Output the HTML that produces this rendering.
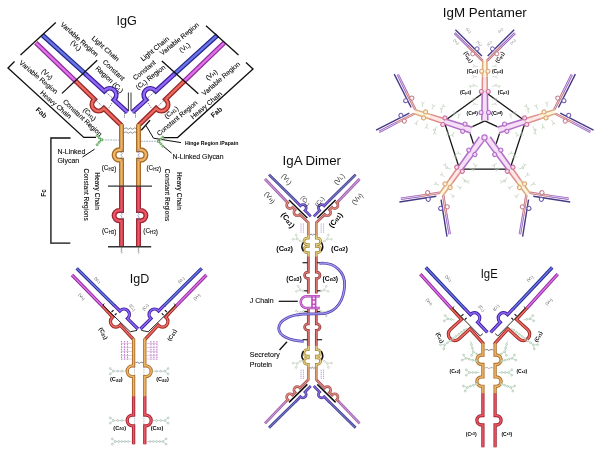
<!DOCTYPE html><html><head><meta charset="utf-8"><style>html,body{margin:0;padding:0;background:#fff}svg{display:block}text{font-family:"Liberation Sans",sans-serif}</style></head><body><svg width="600" height="453" viewBox="0 0 600 453" font-family="Liberation Sans, sans-serif"><defs><filter id="bl" x="-2%" y="-2%" width="104%" height="104%"><feGaussianBlur stdDeviation="0.38"/></filter></defs><rect width="600" height="453" fill="#fff"/><g filter="url(#bl)"><g><path d="M42.5 35.1L86.3 74.7" fill="none" stroke="#26268e" stroke-width="4.8" stroke-linecap="butt" stroke-linejoin="miter"/><path d="M42.5 35.1L86.3 74.7" fill="none" stroke="#6876e6" stroke-width="2.4" stroke-linecap="butt" stroke-linejoin="miter"/><path d="M85.8 74.3L104.22 91.05L104.9 90.31A6.6 6.6 0 0 1 114.66 99.19L113.99 99.93L127.6 112.3" fill="none" stroke="#3c1ea0" stroke-width="4.8" stroke-linecap="butt" stroke-linejoin="miter"/><path d="M85.8 74.3L104.22 91.05L104.9 90.31A6.6 6.6 0 0 1 114.66 99.19L113.99 99.93L127.6 112.3" fill="none" stroke="#9068f4" stroke-width="2.4" stroke-linecap="butt" stroke-linejoin="miter"/><path d="M35.8 42.8L76.3 81.7" fill="none" stroke="#8c2a9a" stroke-width="4.8" stroke-linecap="butt" stroke-linejoin="miter"/><path d="M35.8 42.8L76.3 81.7" fill="none" stroke="#e070e8" stroke-width="2.4" stroke-linecap="butt" stroke-linejoin="miter"/><path d="M75.8 81.2L94.4 99.23L93.7 99.95A6.6 6.6 0 0 0 103.18 109.13L103.87 108.41L121.5 125.5" fill="none" stroke="#9a2a2a" stroke-width="5" stroke-linecap="butt" stroke-linejoin="miter"/><path d="M75.8 81.2L94.4 99.23L93.7 99.95A6.6 6.6 0 0 0 103.18 109.13L103.87 108.41L121.5 125.5" fill="none" stroke="#ee6a60" stroke-width="2.3" stroke-linecap="butt" stroke-linejoin="miter"/><path d="M121.5 124.2L121.5 149.8L119.3 149.8A5.2 5.2 0 0 0 119.3 160.2L121.5 160.2L121.5 186.7" fill="none" stroke="#a86c2a" stroke-width="5" stroke-linecap="butt" stroke-linejoin="miter"/><path d="M121.5 124.2L121.5 149.8L119.3 149.8A5.2 5.2 0 0 0 119.3 160.2L121.5 160.2L121.5 186.7" fill="none" stroke="#f0b668" stroke-width="2.3" stroke-linecap="butt" stroke-linejoin="miter"/><path d="M121.5 186.4L121.5 210.4L119.3 210.4A5.2 5.2 0 0 0 119.3 220.8L121.5 220.8L121.5 246.5" fill="none" stroke="#a02634" stroke-width="5" stroke-linecap="butt" stroke-linejoin="miter"/><path d="M121.5 186.4L121.5 210.4L119.3 210.4A5.2 5.2 0 0 0 119.3 220.8L121.5 220.8L121.5 246.5" fill="none" stroke="#ee5866" stroke-width="2.3" stroke-linecap="butt" stroke-linejoin="miter"/></g><g transform="translate(260 0) scale(-1 1)"><path d="M42.5 35.1L86.3 74.7" fill="none" stroke="#26268e" stroke-width="4.8" stroke-linecap="butt" stroke-linejoin="miter"/><path d="M42.5 35.1L86.3 74.7" fill="none" stroke="#6876e6" stroke-width="2.4" stroke-linecap="butt" stroke-linejoin="miter"/><path d="M85.8 74.3L104.22 91.05L104.9 90.31A6.6 6.6 0 0 1 114.66 99.19L113.99 99.93L127.6 112.3" fill="none" stroke="#3c1ea0" stroke-width="4.8" stroke-linecap="butt" stroke-linejoin="miter"/><path d="M85.8 74.3L104.22 91.05L104.9 90.31A6.6 6.6 0 0 1 114.66 99.19L113.99 99.93L127.6 112.3" fill="none" stroke="#9068f4" stroke-width="2.4" stroke-linecap="butt" stroke-linejoin="miter"/><path d="M35.8 42.8L76.3 81.7" fill="none" stroke="#8c2a9a" stroke-width="4.8" stroke-linecap="butt" stroke-linejoin="miter"/><path d="M35.8 42.8L76.3 81.7" fill="none" stroke="#e070e8" stroke-width="2.4" stroke-linecap="butt" stroke-linejoin="miter"/><path d="M75.8 81.2L94.4 99.23L93.7 99.95A6.6 6.6 0 0 0 103.18 109.13L103.87 108.41L121.5 125.5" fill="none" stroke="#9a2a2a" stroke-width="5" stroke-linecap="butt" stroke-linejoin="miter"/><path d="M75.8 81.2L94.4 99.23L93.7 99.95A6.6 6.6 0 0 0 103.18 109.13L103.87 108.41L121.5 125.5" fill="none" stroke="#ee6a60" stroke-width="2.3" stroke-linecap="butt" stroke-linejoin="miter"/><path d="M121.5 124.2L121.5 149.8L119.3 149.8A5.2 5.2 0 0 0 119.3 160.2L121.5 160.2L121.5 186.7" fill="none" stroke="#a86c2a" stroke-width="5" stroke-linecap="butt" stroke-linejoin="miter"/><path d="M121.5 124.2L121.5 149.8L119.3 149.8A5.2 5.2 0 0 0 119.3 160.2L121.5 160.2L121.5 186.7" fill="none" stroke="#f0b668" stroke-width="2.3" stroke-linecap="butt" stroke-linejoin="miter"/><path d="M121.5 186.4L121.5 210.4L119.3 210.4A5.2 5.2 0 0 0 119.3 220.8L121.5 220.8L121.5 246.5" fill="none" stroke="#a02634" stroke-width="5" stroke-linecap="butt" stroke-linejoin="miter"/><path d="M121.5 186.4L121.5 210.4L119.3 210.4A5.2 5.2 0 0 0 119.3 220.8L121.5 220.8L121.5 246.5" fill="none" stroke="#ee5866" stroke-width="2.3" stroke-linecap="butt" stroke-linejoin="miter"/></g><path d="M124.2 128.6L126.25 127.9L128.3 129.3L130.35 127.9L132.4 129.3L134.45 127.9L136.5 128.6" fill="none" stroke="#444" stroke-width="0.6"/><path d="M124.2 132.6L126.25 131.9L128.3 133.3L130.35 131.9L132.4 133.3L134.45 131.9L136.5 132.6" fill="none" stroke="#444" stroke-width="0.6"/><path d="M121.5 247L122.2 248.08L120.8 249.17L122.2 250.25L120.8 251.33L122.2 252.42L121.5 253.5" fill="none" stroke="#666" stroke-width="0.6"/><path d="M138.5 247L139.2 248.08L137.8 249.17L139.2 250.25L137.8 251.33L139.2 252.42L138.5 253.5" fill="none" stroke="#666" stroke-width="0.6"/><path d="M121.5 149.3L122.2 150.74L120.8 152.18L122.2 153.61L120.8 155.05L122.2 156.49L120.8 157.93L122.2 159.36L121.5 160.8" fill="none" stroke="#5566aa" stroke-width="0.6"/><path d="M138.5 149.3L139.2 150.74L137.8 152.18L139.2 153.61L137.8 155.05L139.2 156.49L137.8 157.93L139.2 159.36L138.5 160.8" fill="none" stroke="#5566aa" stroke-width="0.6"/><path d="M121.5 209.8L122.2 211.28L120.8 212.75L122.2 214.22L120.8 215.7L122.2 217.18L120.8 218.65L122.2 220.12L121.5 221.6" fill="none" stroke="#5566aa" stroke-width="0.6"/><path d="M138.5 209.8L139.2 211.28L137.8 212.75L139.2 214.22L137.8 215.7L139.2 217.18L137.8 218.65L139.2 220.12L138.5 221.6" fill="none" stroke="#5566aa" stroke-width="0.6"/><line x1="104.6" y1="90.9" x2="113.8" y2="99.3" stroke="#556" stroke-width="0.75" stroke-dasharray="1.4 0.8"/><line x1="155.4" y1="90.9" x2="146.2" y2="99.3" stroke="#556" stroke-width="0.75" stroke-dasharray="1.4 0.8"/><line x1="94.2" y1="98.5" x2="103.5" y2="107.6" stroke="#556" stroke-width="0.75" stroke-dasharray="1.4 0.8"/><line x1="165.8" y1="98.5" x2="156.5" y2="107.6" stroke="#556" stroke-width="0.75" stroke-dasharray="1.4 0.8"/><line x1="112" y1="103" x2="108.5" y2="108.5" stroke="#556" stroke-width="0.75" stroke-dasharray="1.4 0.8"/><line x1="148" y1="103" x2="151.5" y2="108.5" stroke="#556" stroke-width="0.75" stroke-dasharray="1.4 0.8"/><line x1="124.5" y1="113" x2="124.5" y2="118" stroke="#556" stroke-width="0.75" stroke-dasharray="1.4 0.8"/><line x1="135.5" y1="113" x2="135.5" y2="118" stroke="#556" stroke-width="0.75" stroke-dasharray="1.4 0.8"/><line x1="128.4" y1="92.5" x2="128.4" y2="110.5" stroke="#222" stroke-width="0.9" /><line x1="131" y1="92.5" x2="131" y2="110.5" stroke="#222" stroke-width="0.9" /><line x1="108" y1="186.2" x2="152" y2="186.2" stroke="#333" stroke-width="1.3" /><line x1="108" y1="246.7" x2="151.2" y2="246.7" stroke="#333" stroke-width="1.4" /><line x1="55.8" y1="22.5" x2="20.5" y2="55" stroke="#0c0c0c" stroke-width="1.3" /><line x1="97.2" y1="60.2" x2="62" y2="93.4" stroke="#0c0c0c" stroke-width="1.3" /><path d="M14.5 61.5L8 68L83.8 137.4L96 137.4" fill="none" stroke="#0c0c0c" stroke-width="1.3"/><path d="M70.5 138L50.9 138L50.9 243.2L70.3 243.2" fill="none" stroke="#0c0c0c" stroke-width="1.3"/><line x1="206" y1="25.8" x2="238.5" y2="55" stroke="#0c0c0c" stroke-width="1.3" /><line x1="161.9" y1="60.9" x2="198.3" y2="93.7" stroke="#0c0c0c" stroke-width="1.3" /><path d="M246 62.5L253 69L177.6 137.6L163 137.6" fill="none" stroke="#0c0c0c" stroke-width="1.3"/><line x1="141.3" y1="130.2" x2="150" y2="120.3" stroke="#0c0c0c" stroke-width="1.3" /><path d="M146 125.5L153.5 138.2L181 142.6" fill="none" stroke="#0c0c0c" stroke-width="1.0"/><line x1="171.6" y1="153.2" x2="163" y2="146" stroke="#0c0c0c" stroke-width="1" /><line x1="82.5" y1="157" x2="94.6" y2="149.2" stroke="#0c0c0c" stroke-width="1" /><line x1="102.4" y1="139.9" x2="119.3" y2="140.1" stroke="#8899aa" stroke-width="0.8" stroke-dasharray="1.8 0.8"/><line x1="141" y1="141.3" x2="157.6" y2="141.3" stroke="#8899aa" stroke-width="0.8" stroke-dasharray="1.8 0.8"/><path d="M101.3 139.8L97.2 135.6M101.3 139.8L97.2 144.7" fill="none" stroke="#3f943c" stroke-width="0.5"/><rect x="100.3" y="138.8" width="2" height="2" fill="#e4f4e0" stroke="#3f943c" stroke-width="0.8"/><circle cx="99.2" cy="137.7" r="1.0" fill="#e4f4e0" stroke="#3f943c" stroke-width="0.8"/><circle cx="97.2" cy="135.6" r="1.0" fill="#e4f4e0" stroke="#3f943c" stroke-width="0.8"/><circle cx="99.2" cy="142.2" r="1.0" fill="#e4f4e0" stroke="#3f943c" stroke-width="0.8"/><circle cx="97.2" cy="144.7" r="1.0" fill="#e4f4e0" stroke="#3f943c" stroke-width="0.8"/><path d="M158.7 141.3L162.8 137.1M158.7 141.3L162.8 146.2" fill="none" stroke="#3f943c" stroke-width="0.5"/><rect x="157.7" y="140.3" width="2" height="2" fill="#e4f4e0" stroke="#3f943c" stroke-width="0.8"/><circle cx="160.8" cy="139.2" r="1.0" fill="#e4f4e0" stroke="#3f943c" stroke-width="0.8"/><circle cx="162.8" cy="137.1" r="1.0" fill="#e4f4e0" stroke="#3f943c" stroke-width="0.8"/><circle cx="160.8" cy="143.7" r="1.0" fill="#e4f4e0" stroke="#3f943c" stroke-width="0.8"/><circle cx="162.8" cy="146.2" r="1.0" fill="#e4f4e0" stroke="#3f943c" stroke-width="0.8"/><text x="126.7" y="25" font-size="12.4" text-anchor="middle" font-weight="normal" fill="#111" textLength="20.4" lengthAdjust="spacingAndGlyphs">IgG</text><text x="79.6" y="39.2" font-size="6.8" text-anchor="middle" font-weight="normal" fill="#0a0a0a" transform="rotate(41.5 79.6 39.2)" dominant-baseline="central" stroke="#0a0a0a" stroke-width="0.09">Variable Region</text><text x="76.3" y="45.2" font-size="6.8" text-anchor="middle" font-weight="normal" fill="#0a0a0a" transform="rotate(41.5 76.3 45.2)" dominant-baseline="central" stroke="#0a0a0a" stroke-width="0.09">(V<tspan font-size="70%" dy="1">L</tspan><tspan dy="-1">)</tspan></text><text x="105.7" y="48.6" font-size="6.8" text-anchor="middle" font-weight="normal" fill="#0a0a0a" transform="rotate(41.5 105.7 48.6)" dominant-baseline="central" stroke="#0a0a0a" stroke-width="0.09">Light Chain</text><text x="113.8" y="70" font-size="6.8" text-anchor="middle" font-weight="normal" fill="#0a0a0a" transform="rotate(43 113.8 70)" dominant-baseline="central" stroke="#0a0a0a" stroke-width="0.09">Constant</text><text x="109.6" y="79.2" font-size="6.8" text-anchor="middle" font-weight="normal" fill="#0a0a0a" transform="rotate(43 109.6 79.2)" dominant-baseline="central" stroke="#0a0a0a" stroke-width="0.09">Region (C<tspan font-size="70%" dy="1">L</tspan><tspan dy="-1">)</tspan></text><text x="47.4" y="74" font-size="6.8" text-anchor="middle" font-weight="normal" fill="#0a0a0a" transform="rotate(40 47.4 74)" dominant-baseline="central" stroke="#0a0a0a" stroke-width="0.09">(V<tspan font-size="70%" dy="1">H</tspan><tspan dy="-1">)</tspan></text><text x="38.8" y="77" font-size="6.8" text-anchor="middle" font-weight="normal" fill="#0a0a0a" transform="rotate(40 38.8 77)" dominant-baseline="central" stroke="#0a0a0a" stroke-width="0.09">Variable Region</text><text x="56" y="104.4" font-size="6.8" text-anchor="middle" font-weight="normal" fill="#0a0a0a" transform="rotate(41 56 104.4)" dominant-baseline="central" stroke="#0a0a0a" stroke-width="0.09">Heavy Chain</text><text x="82.6" y="117.7" font-size="6.8" text-anchor="middle" font-weight="normal" fill="#0a0a0a" transform="rotate(43 82.6 117.7)" dominant-baseline="central" stroke="#0a0a0a" stroke-width="0.09">Constant Region</text><text x="89.9" y="114" font-size="6.8" text-anchor="middle" font-weight="normal" fill="#0a0a0a" transform="rotate(43 89.9 114)" dominant-baseline="central" stroke="#0a0a0a" stroke-width="0.09">(C<tspan font-size="70%" dy="1">H1</tspan><tspan dy="-1">)</tspan></text><text x="41.6" y="112.6" font-size="7" text-anchor="middle" font-weight="bold" fill="#0a0a0a" transform="rotate(43 41.6 112.6)" dominant-baseline="central">Fab</text><text x="179.4" y="38.7" font-size="6.8" text-anchor="middle" font-weight="normal" fill="#0a0a0a" transform="rotate(-39 179.4 38.7)" dominant-baseline="central" stroke="#0a0a0a" stroke-width="0.09">Variable Region</text><text x="184.4" y="47.3" font-size="6.8" text-anchor="middle" font-weight="normal" fill="#0a0a0a" transform="rotate(-39 184.4 47.3)" dominant-baseline="central" stroke="#0a0a0a" stroke-width="0.09">(V<tspan font-size="70%" dy="1">L</tspan><tspan dy="-1">)</tspan></text><text x="154.7" y="48.7" font-size="6.8" text-anchor="middle" font-weight="normal" fill="#0a0a0a" transform="rotate(-39.5 154.7 48.7)" dominant-baseline="central" stroke="#0a0a0a" stroke-width="0.09">Light Chain</text><text x="144.2" y="70" font-size="6.8" text-anchor="middle" font-weight="normal" fill="#0a0a0a" transform="rotate(-39 144.2 70)" dominant-baseline="central" stroke="#0a0a0a" stroke-width="0.09">Constant</text><text x="150.4" y="77.1" font-size="6.8" text-anchor="middle" font-weight="normal" fill="#0a0a0a" transform="rotate(-38 150.4 77.1)" dominant-baseline="central" stroke="#0a0a0a" stroke-width="0.09">(C<tspan font-size="70%" dy="1">L</tspan><tspan dy="-1">)</tspan> Region</text><text x="211.2" y="74.6" font-size="6.8" text-anchor="middle" font-weight="normal" fill="#0a0a0a" transform="rotate(-40 211.2 74.6)" dominant-baseline="central" stroke="#0a0a0a" stroke-width="0.09">(V<tspan font-size="70%" dy="1">H</tspan><tspan dy="-1">)</tspan></text><text x="220.8" y="78.5" font-size="6.8" text-anchor="middle" font-weight="normal" fill="#0a0a0a" transform="rotate(-41 220.8 78.5)" dominant-baseline="central" stroke="#0a0a0a" stroke-width="0.09">Variable Region</text><text x="206.2" y="105.2" font-size="6.8" text-anchor="middle" font-weight="normal" fill="#0a0a0a" transform="rotate(-40 206.2 105.2)" dominant-baseline="central" stroke="#0a0a0a" stroke-width="0.09">Heavy Chain</text><text x="177" y="118" font-size="6.8" text-anchor="middle" font-weight="normal" fill="#0a0a0a" transform="rotate(-40 177 118)" dominant-baseline="central" stroke="#0a0a0a" stroke-width="0.09">Constant Region</text><text x="171" y="112" font-size="6.8" text-anchor="middle" font-weight="normal" fill="#0a0a0a" transform="rotate(-40 171 112)" dominant-baseline="central" stroke="#0a0a0a" stroke-width="0.09">(C<tspan font-size="70%" dy="1">H1</tspan><tspan dy="-1">)</tspan></text><text x="216.5" y="112" font-size="7" text-anchor="middle" font-weight="bold" fill="#0a0a0a" transform="rotate(-40 216.5 112)" dominant-baseline="central">Fab</text><text x="57.4" y="154" font-size="7" text-anchor="start" font-weight="normal" fill="#0a0a0a" stroke="#0a0a0a" stroke-width="0.09">N-Linked</text><text x="57.4" y="163" font-size="7" text-anchor="start" font-weight="normal" fill="#0a0a0a" stroke="#0a0a0a" stroke-width="0.09">Glycan</text><text x="172.6" y="159" font-size="6.9" text-anchor="start" font-weight="normal" fill="#0a0a0a" stroke="#0a0a0a" stroke-width="0.09">N-Linked Glycan</text><text x="185" y="145" font-size="5.2" text-anchor="start" font-weight="bold" fill="#000" >Hinge Region /Papain</text><text x="109" y="167.5" font-size="6.4" text-anchor="middle" font-weight="normal" fill="#0a0a0a" dominant-baseline="central" stroke="#0a0a0a" stroke-width="0.09">(C<tspan font-size="70%" dy="1">H2</tspan><tspan dy="-1">)</tspan></text><text x="153.8" y="167.5" font-size="6.4" text-anchor="middle" font-weight="normal" fill="#0a0a0a" dominant-baseline="central" stroke="#0a0a0a" stroke-width="0.09">(C<tspan font-size="70%" dy="1">H2</tspan><tspan dy="-1">)</tspan></text><text x="109.2" y="230.5" font-size="6.4" text-anchor="middle" font-weight="normal" fill="#0a0a0a" dominant-baseline="central" stroke="#0a0a0a" stroke-width="0.09">(C<tspan font-size="70%" dy="1">H3</tspan><tspan dy="-1">)</tspan></text><text x="150.6" y="230.5" font-size="6.4" text-anchor="middle" font-weight="normal" fill="#0a0a0a" dominant-baseline="central" stroke="#0a0a0a" stroke-width="0.09">(C<tspan font-size="70%" dy="1">H3</tspan><tspan dy="-1">)</tspan></text><text x="97.5" y="191" font-size="6.6" text-anchor="middle" font-weight="normal" fill="#0a0a0a" transform="rotate(90 97.5 191)" dominant-baseline="central" stroke="#0a0a0a" stroke-width="0.09">Heavy Chain</text><text x="86.6" y="194.6" font-size="6.6" text-anchor="middle" font-weight="normal" fill="#0a0a0a" transform="rotate(90 86.6 194.6)" dominant-baseline="central" stroke="#0a0a0a" stroke-width="0.09">Constant Regions</text><text x="179.2" y="191" font-size="6.6" text-anchor="middle" font-weight="normal" fill="#0a0a0a" transform="rotate(90 179.2 191)" dominant-baseline="central" stroke="#0a0a0a" stroke-width="0.09">Heavy Chain</text><text x="167.5" y="195" font-size="6.6" text-anchor="middle" font-weight="normal" fill="#0a0a0a" transform="rotate(90 167.5 195)" dominant-baseline="central" stroke="#0a0a0a" stroke-width="0.09">Constant Regions</text><text x="43" y="193" font-size="6.4" text-anchor="middle" font-weight="bold" fill="#0a0a0a" transform="rotate(-90 43 193)" dominant-baseline="central">Fc</text>
<g><path d="M76.7 268.3L114.4 305.6" fill="none" stroke="#26268e" stroke-width="3.3" stroke-linecap="butt" stroke-linejoin="miter"/><path d="M76.7 268.3L114.4 305.6" fill="none" stroke="#6876e6" stroke-width="1.5" stroke-linecap="butt" stroke-linejoin="miter"/><path d="M114 305.2L119.82 310.97L120.17 310.62A5.4 5.4 0 0 1 127.84 318.22L127.49 318.58L138 329" fill="none" stroke="#3c1ea0" stroke-width="3.3" stroke-linecap="butt" stroke-linejoin="miter"/><path d="M114 305.2L119.82 310.97L120.17 310.62A5.4 5.4 0 0 1 127.84 318.22L127.49 318.58L138 329" fill="none" stroke="#9068f4" stroke-width="1.5" stroke-linecap="butt" stroke-linejoin="miter"/><path d="M72 275L102.9 306.6" fill="none" stroke="#8c2a9a" stroke-width="3.3" stroke-linecap="butt" stroke-linejoin="miter"/><path d="M72 275L102.9 306.6" fill="none" stroke="#e070e8" stroke-width="1.5" stroke-linecap="butt" stroke-linejoin="miter"/><path d="M102.5 306.2L112.65 317.1L112.21 317.51A5.5 5.5 0 0 0 119.71 325.56L120.15 325.16L133.6 339.6" fill="none" stroke="#9a2a2a" stroke-width="3.3" stroke-linecap="butt" stroke-linejoin="miter"/><path d="M102.5 306.2L112.65 317.1L112.21 317.51A5.5 5.5 0 0 0 119.71 325.56L120.15 325.16L133.6 339.6" fill="none" stroke="#ee6a60" stroke-width="1.5" stroke-linecap="butt" stroke-linejoin="miter"/><path d="M133.6 338.6L133.6 365.8L132.6 365.8A5.4 5.4 0 0 0 132.6 376.6L133.6 376.6L133.6 396.8" fill="none" stroke="#a86c2a" stroke-width="3.3" stroke-linecap="butt" stroke-linejoin="miter"/><path d="M133.6 338.6L133.6 365.8L132.6 365.8A5.4 5.4 0 0 0 132.6 376.6L133.6 376.6L133.6 396.8" fill="none" stroke="#f0b668" stroke-width="1.5" stroke-linecap="butt" stroke-linejoin="miter"/><path d="M133.6 396.5L133.6 415.1L132.6 415.1A5.4 5.4 0 0 0 132.6 425.9L133.6 425.9L133.6 444.3" fill="none" stroke="#a02634" stroke-width="3.3" stroke-linecap="butt" stroke-linejoin="miter"/><path d="M133.6 396.5L133.6 415.1L132.6 415.1A5.4 5.4 0 0 0 132.6 425.9L133.6 425.9L133.6 444.3" fill="none" stroke="#ee5866" stroke-width="1.5" stroke-linecap="butt" stroke-linejoin="miter"/><path d="M104.2 303.6L102.9 305.2L130.2 331.8L137 330.4" fill="none" stroke="#111" stroke-width="0.9"/><line x1="111.5" y1="312.2" x2="113.5" y2="310.2" stroke="#111" stroke-width="1.2" /><line x1="114.8" y1="315.2" x2="116.6" y2="313.4" stroke="#111" stroke-width="1.2" /><line x1="121.5" y1="341" x2="121.5" y2="360" stroke="#c478d8" stroke-width="1.1" stroke-dasharray="1.6 1.0"/><line x1="124.5" y1="341" x2="124.5" y2="360" stroke="#c478d8" stroke-width="1.1" stroke-dasharray="1.6 1.0"/><line x1="127.5" y1="341" x2="127.5" y2="360" stroke="#c478d8" stroke-width="1.1" stroke-dasharray="1.6 1.0"/><line x1="121" y1="343.5" x2="132" y2="343.5" stroke="#c8a0c8" stroke-width="0.5" /><line x1="121" y1="347.5" x2="132" y2="347.5" stroke="#c8a0c8" stroke-width="0.5" /><line x1="121" y1="351.5" x2="132" y2="351.5" stroke="#c8a0c8" stroke-width="0.5" /><line x1="121" y1="355.5" x2="132" y2="355.5" stroke="#c8a0c8" stroke-width="0.5" /><line x1="121" y1="359" x2="132" y2="359" stroke="#c8a0c8" stroke-width="0.5" /><line x1="113.5" y1="371.2" x2="110.28" y2="373.9" stroke="#98b0a4" stroke-width="0.5" /><line x1="113.5" y1="371.2" x2="110.28" y2="368.5" stroke="#98b0a4" stroke-width="0.5" /><line x1="126" y1="371.2" x2="113.5" y2="371.2" stroke="#98b0a4" stroke-width="0.5" /><circle cx="121.83" cy="371.2" r="0.9" fill="#fff" stroke="#98b0a4" stroke-width="0.6"/><circle cx="117.67" cy="371.2" r="0.9" fill="#fff" stroke="#98b0a4" stroke-width="0.6"/><circle cx="113.5" cy="371.2" r="0.9" fill="#fff" stroke="#98b0a4" stroke-width="0.6"/><circle cx="110.28" cy="368.5" r="0.9" fill="#fff" stroke="#98b0a4" stroke-width="0.6"/><circle cx="110.28" cy="373.9" r="0.9" fill="#fff" stroke="#98b0a4" stroke-width="0.6"/><line x1="113.5" y1="420.5" x2="110.28" y2="423.2" stroke="#98b0a4" stroke-width="0.5" /><line x1="113.5" y1="420.5" x2="110.28" y2="417.8" stroke="#98b0a4" stroke-width="0.5" /><line x1="126" y1="420.5" x2="113.5" y2="420.5" stroke="#98b0a4" stroke-width="0.5" /><circle cx="121.83" cy="420.5" r="0.9" fill="#fff" stroke="#98b0a4" stroke-width="0.6"/><circle cx="117.67" cy="420.5" r="0.9" fill="#fff" stroke="#98b0a4" stroke-width="0.6"/><circle cx="113.5" cy="420.5" r="0.9" fill="#fff" stroke="#98b0a4" stroke-width="0.6"/><circle cx="110.28" cy="417.8" r="0.9" fill="#fff" stroke="#98b0a4" stroke-width="0.6"/><circle cx="110.28" cy="423.2" r="0.9" fill="#fff" stroke="#98b0a4" stroke-width="0.6"/><line x1="115.5" y1="441.5" x2="112.28" y2="444.2" stroke="#98b0a4" stroke-width="0.5" /><line x1="115.5" y1="441.5" x2="112.28" y2="438.8" stroke="#98b0a4" stroke-width="0.5" /><line x1="131.5" y1="441.5" x2="115.5" y2="441.5" stroke="#98b0a4" stroke-width="0.5" /><circle cx="128.3" cy="441.5" r="0.9" fill="#fff" stroke="#98b0a4" stroke-width="0.6"/><circle cx="125.1" cy="441.5" r="0.9" fill="#fff" stroke="#98b0a4" stroke-width="0.6"/><circle cx="121.9" cy="441.5" r="0.9" fill="#fff" stroke="#98b0a4" stroke-width="0.6"/><circle cx="118.7" cy="441.5" r="0.9" fill="#fff" stroke="#98b0a4" stroke-width="0.6"/><circle cx="115.5" cy="441.5" r="0.9" fill="#fff" stroke="#98b0a4" stroke-width="0.6"/><circle cx="112.28" cy="438.8" r="0.9" fill="#fff" stroke="#98b0a4" stroke-width="0.6"/><circle cx="112.28" cy="444.2" r="0.9" fill="#fff" stroke="#98b0a4" stroke-width="0.6"/></g><g transform="translate(278.4 0) scale(-1 1)"><path d="M76.7 268.3L114.4 305.6" fill="none" stroke="#26268e" stroke-width="3.3" stroke-linecap="butt" stroke-linejoin="miter"/><path d="M76.7 268.3L114.4 305.6" fill="none" stroke="#6876e6" stroke-width="1.5" stroke-linecap="butt" stroke-linejoin="miter"/><path d="M114 305.2L119.82 310.97L120.17 310.62A5.4 5.4 0 0 1 127.84 318.22L127.49 318.58L138 329" fill="none" stroke="#3c1ea0" stroke-width="3.3" stroke-linecap="butt" stroke-linejoin="miter"/><path d="M114 305.2L119.82 310.97L120.17 310.62A5.4 5.4 0 0 1 127.84 318.22L127.49 318.58L138 329" fill="none" stroke="#9068f4" stroke-width="1.5" stroke-linecap="butt" stroke-linejoin="miter"/><path d="M72 275L102.9 306.6" fill="none" stroke="#8c2a9a" stroke-width="3.3" stroke-linecap="butt" stroke-linejoin="miter"/><path d="M72 275L102.9 306.6" fill="none" stroke="#e070e8" stroke-width="1.5" stroke-linecap="butt" stroke-linejoin="miter"/><path d="M102.5 306.2L112.65 317.1L112.21 317.51A5.5 5.5 0 0 0 119.71 325.56L120.15 325.16L133.6 339.6" fill="none" stroke="#9a2a2a" stroke-width="3.3" stroke-linecap="butt" stroke-linejoin="miter"/><path d="M102.5 306.2L112.65 317.1L112.21 317.51A5.5 5.5 0 0 0 119.71 325.56L120.15 325.16L133.6 339.6" fill="none" stroke="#ee6a60" stroke-width="1.5" stroke-linecap="butt" stroke-linejoin="miter"/><path d="M133.6 338.6L133.6 365.8L132.6 365.8A5.4 5.4 0 0 0 132.6 376.6L133.6 376.6L133.6 396.8" fill="none" stroke="#a86c2a" stroke-width="3.3" stroke-linecap="butt" stroke-linejoin="miter"/><path d="M133.6 338.6L133.6 365.8L132.6 365.8A5.4 5.4 0 0 0 132.6 376.6L133.6 376.6L133.6 396.8" fill="none" stroke="#f0b668" stroke-width="1.5" stroke-linecap="butt" stroke-linejoin="miter"/><path d="M133.6 396.5L133.6 415.1L132.6 415.1A5.4 5.4 0 0 0 132.6 425.9L133.6 425.9L133.6 444.3" fill="none" stroke="#a02634" stroke-width="3.3" stroke-linecap="butt" stroke-linejoin="miter"/><path d="M133.6 396.5L133.6 415.1L132.6 415.1A5.4 5.4 0 0 0 132.6 425.9L133.6 425.9L133.6 444.3" fill="none" stroke="#ee5866" stroke-width="1.5" stroke-linecap="butt" stroke-linejoin="miter"/><path d="M104.2 303.6L102.9 305.2L130.2 331.8L137 330.4" fill="none" stroke="#111" stroke-width="0.9"/><line x1="111.5" y1="312.2" x2="113.5" y2="310.2" stroke="#111" stroke-width="1.2" /><line x1="114.8" y1="315.2" x2="116.6" y2="313.4" stroke="#111" stroke-width="1.2" /><line x1="121.5" y1="341" x2="121.5" y2="360" stroke="#c478d8" stroke-width="1.1" stroke-dasharray="1.6 1.0"/><line x1="124.5" y1="341" x2="124.5" y2="360" stroke="#c478d8" stroke-width="1.1" stroke-dasharray="1.6 1.0"/><line x1="127.5" y1="341" x2="127.5" y2="360" stroke="#c478d8" stroke-width="1.1" stroke-dasharray="1.6 1.0"/><line x1="121" y1="343.5" x2="132" y2="343.5" stroke="#c8a0c8" stroke-width="0.5" /><line x1="121" y1="347.5" x2="132" y2="347.5" stroke="#c8a0c8" stroke-width="0.5" /><line x1="121" y1="351.5" x2="132" y2="351.5" stroke="#c8a0c8" stroke-width="0.5" /><line x1="121" y1="355.5" x2="132" y2="355.5" stroke="#c8a0c8" stroke-width="0.5" /><line x1="121" y1="359" x2="132" y2="359" stroke="#c8a0c8" stroke-width="0.5" /><line x1="113.5" y1="371.2" x2="110.28" y2="373.9" stroke="#98b0a4" stroke-width="0.5" /><line x1="113.5" y1="371.2" x2="110.28" y2="368.5" stroke="#98b0a4" stroke-width="0.5" /><line x1="126" y1="371.2" x2="113.5" y2="371.2" stroke="#98b0a4" stroke-width="0.5" /><circle cx="121.83" cy="371.2" r="0.9" fill="#fff" stroke="#98b0a4" stroke-width="0.6"/><circle cx="117.67" cy="371.2" r="0.9" fill="#fff" stroke="#98b0a4" stroke-width="0.6"/><circle cx="113.5" cy="371.2" r="0.9" fill="#fff" stroke="#98b0a4" stroke-width="0.6"/><circle cx="110.28" cy="368.5" r="0.9" fill="#fff" stroke="#98b0a4" stroke-width="0.6"/><circle cx="110.28" cy="373.9" r="0.9" fill="#fff" stroke="#98b0a4" stroke-width="0.6"/><line x1="113.5" y1="420.5" x2="110.28" y2="423.2" stroke="#98b0a4" stroke-width="0.5" /><line x1="113.5" y1="420.5" x2="110.28" y2="417.8" stroke="#98b0a4" stroke-width="0.5" /><line x1="126" y1="420.5" x2="113.5" y2="420.5" stroke="#98b0a4" stroke-width="0.5" /><circle cx="121.83" cy="420.5" r="0.9" fill="#fff" stroke="#98b0a4" stroke-width="0.6"/><circle cx="117.67" cy="420.5" r="0.9" fill="#fff" stroke="#98b0a4" stroke-width="0.6"/><circle cx="113.5" cy="420.5" r="0.9" fill="#fff" stroke="#98b0a4" stroke-width="0.6"/><circle cx="110.28" cy="417.8" r="0.9" fill="#fff" stroke="#98b0a4" stroke-width="0.6"/><circle cx="110.28" cy="423.2" r="0.9" fill="#fff" stroke="#98b0a4" stroke-width="0.6"/><line x1="115.5" y1="441.5" x2="112.28" y2="444.2" stroke="#98b0a4" stroke-width="0.5" /><line x1="115.5" y1="441.5" x2="112.28" y2="438.8" stroke="#98b0a4" stroke-width="0.5" /><line x1="131.5" y1="441.5" x2="115.5" y2="441.5" stroke="#98b0a4" stroke-width="0.5" /><circle cx="128.3" cy="441.5" r="0.9" fill="#fff" stroke="#98b0a4" stroke-width="0.6"/><circle cx="125.1" cy="441.5" r="0.9" fill="#fff" stroke="#98b0a4" stroke-width="0.6"/><circle cx="121.9" cy="441.5" r="0.9" fill="#fff" stroke="#98b0a4" stroke-width="0.6"/><circle cx="118.7" cy="441.5" r="0.9" fill="#fff" stroke="#98b0a4" stroke-width="0.6"/><circle cx="115.5" cy="441.5" r="0.9" fill="#fff" stroke="#98b0a4" stroke-width="0.6"/><circle cx="112.28" cy="438.8" r="0.9" fill="#fff" stroke="#98b0a4" stroke-width="0.6"/><circle cx="112.28" cy="444.2" r="0.9" fill="#fff" stroke="#98b0a4" stroke-width="0.6"/></g><path d="M135.4 362.8L137.3 362.2L139.2 363.4L141.1 362.2L143 362.8" fill="none" stroke="#333" stroke-width="0.6"/><line x1="134.5" y1="367" x2="134.5" y2="376" stroke="#889" stroke-width="0.6" stroke-dasharray="1.2 1"/><line x1="143.9" y1="367" x2="143.9" y2="376" stroke="#889" stroke-width="0.6" stroke-dasharray="1.2 1"/><line x1="134.5" y1="416" x2="134.5" y2="425" stroke="#889" stroke-width="0.6" stroke-dasharray="1.2 1"/><line x1="143.9" y1="416" x2="143.9" y2="425" stroke="#889" stroke-width="0.6" stroke-dasharray="1.2 1"/><text x="139.6" y="282.5" font-size="12.6" text-anchor="middle" font-weight="normal" fill="#111" textLength="19.5" lengthAdjust="spacingAndGlyphs">IgD</text><text x="97.5" y="280" font-size="4.2" text-anchor="middle" font-weight="normal" fill="#555" transform="rotate(45 97.5 280)" dominant-baseline="central">(V<tspan font-size="70%" dy="0.5">L</tspan><tspan dy="-0.5">)</tspan></text><text x="180.9" y="280" font-size="4.2" text-anchor="middle" font-weight="normal" fill="#555" transform="rotate(-45 180.9 280)" dominant-baseline="central">(V<tspan font-size="70%" dy="0.5">L</tspan><tspan dy="-0.5">)</tspan></text><text x="81.7" y="296.7" font-size="4.2" text-anchor="middle" font-weight="normal" fill="#555" transform="rotate(45 81.7 296.7)" dominant-baseline="central">(V<tspan font-size="70%" dy="0.5">H</tspan><tspan dy="-0.5">)</tspan></text><text x="196.7" y="296.7" font-size="4.2" text-anchor="middle" font-weight="normal" fill="#555" transform="rotate(-45 196.7 296.7)" dominant-baseline="central">(V<tspan font-size="70%" dy="0.5">H</tspan><tspan dy="-0.5">)</tspan></text><text x="132.5" y="307.5" font-size="4.2" text-anchor="middle" font-weight="normal" fill="#555" transform="rotate(50 132.5 307.5)" dominant-baseline="central">(C<tspan font-size="70%" dy="0.5">L</tspan><tspan dy="-0.5">)</tspan></text><text x="145.3" y="306.9" font-size="4.2" text-anchor="middle" font-weight="normal" fill="#555" transform="rotate(-50 145.3 306.9)" dominant-baseline="central">(C<tspan font-size="70%" dy="0.5">L</tspan><tspan dy="-0.5">)</tspan></text><text x="103.5" y="333.5" font-size="5.6" text-anchor="middle" font-weight="bold" fill="#000" transform="rotate(62 103.5 333.5)" dominant-baseline="central">(C<tspan font-size="75%" dy="0.6">&#948;1</tspan><tspan dy="-0.6">)</tspan></text><text x="171.8" y="335" font-size="5.6" text-anchor="middle" font-weight="bold" fill="#000" transform="rotate(-62 171.8 335)" dominant-baseline="central">(C<tspan font-size="75%" dy="0.6">&#948;1</tspan><tspan dy="-0.6">)</tspan></text><text x="116.3" y="379.3" font-size="5.6" text-anchor="middle" font-weight="bold" fill="#000" dominant-baseline="central">(C<tspan font-size="75%" dy="0.6">&#948;2</tspan><tspan dy="-0.6">)</tspan></text><text x="162.5" y="379.3" font-size="5.6" text-anchor="middle" font-weight="bold" fill="#000" dominant-baseline="central">(C<tspan font-size="75%" dy="0.6">&#948;2</tspan><tspan dy="-0.6">)</tspan></text><text x="119.7" y="427.5" font-size="5.6" text-anchor="middle" font-weight="bold" fill="#000" dominant-baseline="central">(C<tspan font-size="75%" dy="0.6">&#948;3</tspan><tspan dy="-0.6">)</tspan></text><text x="157" y="427.5" font-size="5.6" text-anchor="middle" font-weight="bold" fill="#000" dominant-baseline="central">(C<tspan font-size="75%" dy="0.6">&#948;3</tspan><tspan dy="-0.6">)</tspan></text>
<g><path d="M425.8 267.5L465.1 309.1" fill="none" stroke="#26268e" stroke-width="3.3" stroke-linecap="butt" stroke-linejoin="miter"/><path d="M425.8 267.5L465.1 309.1" fill="none" stroke="#6876e6" stroke-width="1.5" stroke-linecap="butt" stroke-linejoin="miter"/><path d="M464.8 308.7L470.39 314.56L470.75 314.22A5.3 5.3 0 0 1 478.07 321.89L477.71 322.23L487.4 332.4" fill="none" stroke="#3c1ea0" stroke-width="3.3" stroke-linecap="butt" stroke-linejoin="miter"/><path d="M464.8 308.7L470.39 314.56L470.75 314.22A5.3 5.3 0 0 1 478.07 321.89L477.71 322.23L487.4 332.4" fill="none" stroke="#9068f4" stroke-width="1.5" stroke-linecap="butt" stroke-linejoin="miter"/><path d="M420.3 274.2L451.3 308.3" fill="none" stroke="#8c2a9a" stroke-width="3.3" stroke-linecap="butt" stroke-linejoin="miter"/><path d="M420.3 274.2L451.3 308.3" fill="none" stroke="#e070e8" stroke-width="1.5" stroke-linecap="butt" stroke-linejoin="miter"/><path d="M451 308L461.5 319.5L450.38 329.58A6.3 6.3 0 0 0 458.85 338.92L469.97 328.84L482.9 343.2L482.9 344" fill="none" stroke="#9a2a2a" stroke-width="3.3" stroke-linecap="butt" stroke-linejoin="miter"/><path d="M451 308L461.5 319.5L450.38 329.58A6.3 6.3 0 0 0 458.85 338.92L469.97 328.84L482.9 343.2L482.9 344" fill="none" stroke="#ee6a60" stroke-width="1.5" stroke-linecap="butt" stroke-linejoin="miter"/><path d="M482.9 343.2L482.9 355L481.6 355A4.7 4.7 0 0 0 481.6 364.4L482.9 364.4L482.9 376.9L481.6 376.9A4.7 4.7 0 0 0 481.6 386.3L482.9 386.3L482.9 393.8" fill="none" stroke="#a86c2a" stroke-width="3.3" stroke-linecap="butt" stroke-linejoin="miter"/><path d="M482.9 343.2L482.9 355L481.6 355A4.7 4.7 0 0 0 481.6 364.4L482.9 364.4L482.9 376.9L481.6 376.9A4.7 4.7 0 0 0 481.6 386.3L482.9 386.3L482.9 393.8" fill="none" stroke="#f0b668" stroke-width="1.5" stroke-linecap="butt" stroke-linejoin="miter"/><path d="M482.9 393.5L482.9 415.6L481.6 415.6A4.7 4.7 0 0 0 481.6 425L482.9 425L482.9 447.2" fill="none" stroke="#a02634" stroke-width="3.3" stroke-linecap="butt" stroke-linejoin="miter"/><path d="M482.9 393.5L482.9 415.6L481.6 415.6A4.7 4.7 0 0 0 481.6 425L482.9 425L482.9 447.2" fill="none" stroke="#ee5866" stroke-width="1.5" stroke-linecap="butt" stroke-linejoin="miter"/><path d="M454.2 306.6L452.6 308L480.2 336L482.8 333.6" fill="none" stroke="#111" stroke-width="0.9"/><line x1="461.4" y1="316.2" x2="463.4" y2="314.2" stroke="#111" stroke-width="1.2" /><line x1="464.8" y1="319.6" x2="466.6" y2="317.8" stroke="#111" stroke-width="1.2" /><line x1="447.91" y1="318.78" x2="444.27" y2="320.88" stroke="#90b898" stroke-width="0.5" /><line x1="447.91" y1="318.78" x2="445.21" y2="315.57" stroke="#90b898" stroke-width="0.5" /><line x1="454.8" y1="320" x2="447.91" y2="318.78" stroke="#90b898" stroke-width="0.5" /><circle cx="451.35" cy="319.39" r="0.9" fill="#fff" stroke="#90b898" stroke-width="0.6"/><circle cx="447.91" cy="318.78" r="0.9" fill="#fff" stroke="#90b898" stroke-width="0.6"/><circle cx="445.21" cy="315.57" r="0.9" fill="#fff" stroke="#90b898" stroke-width="0.6"/><circle cx="444.27" cy="320.88" r="0.9" fill="#fff" stroke="#90b898" stroke-width="0.6"/><line x1="444.64" y1="344.85" x2="443.69" y2="348.94" stroke="#90b898" stroke-width="0.5" /><line x1="444.64" y1="344.85" x2="440.44" y2="344.63" stroke="#90b898" stroke-width="0.5" /><line x1="467" y1="328" x2="444.64" y2="344.85" stroke="#90b898" stroke-width="0.5" /><circle cx="464.2" cy="330.11" r="0.9" fill="#fff" stroke="#90b898" stroke-width="0.6"/><circle cx="461.41" cy="332.21" r="0.9" fill="#fff" stroke="#90b898" stroke-width="0.6"/><circle cx="458.61" cy="334.32" r="0.9" fill="#fff" stroke="#90b898" stroke-width="0.6"/><circle cx="455.82" cy="336.43" r="0.9" fill="#fff" stroke="#90b898" stroke-width="0.6"/><circle cx="453.02" cy="338.53" r="0.9" fill="#fff" stroke="#90b898" stroke-width="0.6"/><circle cx="450.23" cy="340.64" r="0.9" fill="#fff" stroke="#90b898" stroke-width="0.6"/><circle cx="447.43" cy="342.74" r="0.9" fill="#fff" stroke="#90b898" stroke-width="0.6"/><circle cx="444.64" cy="344.85" r="0.9" fill="#fff" stroke="#90b898" stroke-width="0.6"/><circle cx="440.44" cy="344.63" r="0.9" fill="#fff" stroke="#90b898" stroke-width="0.6"/><circle cx="443.69" cy="348.94" r="0.9" fill="#fff" stroke="#90b898" stroke-width="0.6"/><line x1="473.35" y1="351.63" x2="476.79" y2="354.03" stroke="#90b898" stroke-width="0.5" /><line x1="473.35" y1="351.63" x2="471.57" y2="355.43" stroke="#90b898" stroke-width="0.5" /><line x1="470.5" y1="341" x2="473.35" y2="351.63" stroke="#90b898" stroke-width="0.5" /><circle cx="471.45" cy="344.54" r="0.9" fill="#fff" stroke="#90b898" stroke-width="0.6"/><circle cx="472.4" cy="348.08" r="0.9" fill="#fff" stroke="#90b898" stroke-width="0.6"/><circle cx="473.35" cy="351.63" r="0.9" fill="#fff" stroke="#90b898" stroke-width="0.6"/><circle cx="471.57" cy="355.43" r="0.9" fill="#fff" stroke="#90b898" stroke-width="0.6"/><circle cx="476.79" cy="354.03" r="0.9" fill="#fff" stroke="#90b898" stroke-width="0.6"/><line x1="465.98" y1="358.38" x2="462.17" y2="360.15" stroke="#90b898" stroke-width="0.5" /><line x1="465.98" y1="358.38" x2="463.57" y2="354.94" stroke="#90b898" stroke-width="0.5" /><line x1="479.5" y1="362" x2="465.98" y2="358.38" stroke="#90b898" stroke-width="0.5" /><circle cx="476.12" cy="361.09" r="0.9" fill="#fff" stroke="#90b898" stroke-width="0.6"/><circle cx="472.74" cy="360.19" r="0.9" fill="#fff" stroke="#90b898" stroke-width="0.6"/><circle cx="469.36" cy="359.28" r="0.9" fill="#fff" stroke="#90b898" stroke-width="0.6"/><circle cx="465.98" cy="358.38" r="0.9" fill="#fff" stroke="#90b898" stroke-width="0.6"/><circle cx="463.57" cy="354.94" r="0.9" fill="#fff" stroke="#90b898" stroke-width="0.6"/><circle cx="462.17" cy="360.15" r="0.9" fill="#fff" stroke="#90b898" stroke-width="0.6"/><line x1="469.5" y1="372.5" x2="466.28" y2="375.2" stroke="#90b898" stroke-width="0.5" /><line x1="469.5" y1="372.5" x2="466.28" y2="369.8" stroke="#90b898" stroke-width="0.5" /><line x1="479.5" y1="372.5" x2="469.5" y2="372.5" stroke="#90b898" stroke-width="0.5" /><circle cx="476.17" cy="372.5" r="0.9" fill="#fff" stroke="#90b898" stroke-width="0.6"/><circle cx="472.83" cy="372.5" r="0.9" fill="#fff" stroke="#90b898" stroke-width="0.6"/><circle cx="469.5" cy="372.5" r="0.9" fill="#fff" stroke="#90b898" stroke-width="0.6"/><circle cx="466.28" cy="369.8" r="0.9" fill="#fff" stroke="#90b898" stroke-width="0.6"/><circle cx="466.28" cy="375.2" r="0.9" fill="#fff" stroke="#90b898" stroke-width="0.6"/><line x1="467.28" y1="387.45" x2="465.18" y2="391.08" stroke="#90b898" stroke-width="0.5" /><line x1="467.28" y1="387.45" x2="463.34" y2="386.01" stroke="#90b898" stroke-width="0.5" /><line x1="479.5" y1="383" x2="467.28" y2="387.45" stroke="#90b898" stroke-width="0.5" /><circle cx="476.45" cy="384.11" r="0.9" fill="#fff" stroke="#90b898" stroke-width="0.6"/><circle cx="473.39" cy="385.22" r="0.9" fill="#fff" stroke="#90b898" stroke-width="0.6"/><circle cx="470.34" cy="386.33" r="0.9" fill="#fff" stroke="#90b898" stroke-width="0.6"/><circle cx="467.28" cy="387.45" r="0.9" fill="#fff" stroke="#90b898" stroke-width="0.6"/><circle cx="463.34" cy="386.01" r="0.9" fill="#fff" stroke="#90b898" stroke-width="0.6"/><circle cx="465.18" cy="391.08" r="0.9" fill="#fff" stroke="#90b898" stroke-width="0.6"/></g><g transform="translate(978 0) scale(-1 1)"><path d="M425.8 267.5L465.1 309.1" fill="none" stroke="#26268e" stroke-width="3.3" stroke-linecap="butt" stroke-linejoin="miter"/><path d="M425.8 267.5L465.1 309.1" fill="none" stroke="#6876e6" stroke-width="1.5" stroke-linecap="butt" stroke-linejoin="miter"/><path d="M464.8 308.7L470.39 314.56L470.75 314.22A5.3 5.3 0 0 1 478.07 321.89L477.71 322.23L487.4 332.4" fill="none" stroke="#3c1ea0" stroke-width="3.3" stroke-linecap="butt" stroke-linejoin="miter"/><path d="M464.8 308.7L470.39 314.56L470.75 314.22A5.3 5.3 0 0 1 478.07 321.89L477.71 322.23L487.4 332.4" fill="none" stroke="#9068f4" stroke-width="1.5" stroke-linecap="butt" stroke-linejoin="miter"/><path d="M420.3 274.2L451.3 308.3" fill="none" stroke="#8c2a9a" stroke-width="3.3" stroke-linecap="butt" stroke-linejoin="miter"/><path d="M420.3 274.2L451.3 308.3" fill="none" stroke="#e070e8" stroke-width="1.5" stroke-linecap="butt" stroke-linejoin="miter"/><path d="M451 308L461.5 319.5L450.38 329.58A6.3 6.3 0 0 0 458.85 338.92L469.97 328.84L482.9 343.2L482.9 344" fill="none" stroke="#9a2a2a" stroke-width="3.3" stroke-linecap="butt" stroke-linejoin="miter"/><path d="M451 308L461.5 319.5L450.38 329.58A6.3 6.3 0 0 0 458.85 338.92L469.97 328.84L482.9 343.2L482.9 344" fill="none" stroke="#ee6a60" stroke-width="1.5" stroke-linecap="butt" stroke-linejoin="miter"/><path d="M482.9 343.2L482.9 355L481.6 355A4.7 4.7 0 0 0 481.6 364.4L482.9 364.4L482.9 376.9L481.6 376.9A4.7 4.7 0 0 0 481.6 386.3L482.9 386.3L482.9 393.8" fill="none" stroke="#a86c2a" stroke-width="3.3" stroke-linecap="butt" stroke-linejoin="miter"/><path d="M482.9 343.2L482.9 355L481.6 355A4.7 4.7 0 0 0 481.6 364.4L482.9 364.4L482.9 376.9L481.6 376.9A4.7 4.7 0 0 0 481.6 386.3L482.9 386.3L482.9 393.8" fill="none" stroke="#f0b668" stroke-width="1.5" stroke-linecap="butt" stroke-linejoin="miter"/><path d="M482.9 393.5L482.9 415.6L481.6 415.6A4.7 4.7 0 0 0 481.6 425L482.9 425L482.9 447.2" fill="none" stroke="#a02634" stroke-width="3.3" stroke-linecap="butt" stroke-linejoin="miter"/><path d="M482.9 393.5L482.9 415.6L481.6 415.6A4.7 4.7 0 0 0 481.6 425L482.9 425L482.9 447.2" fill="none" stroke="#ee5866" stroke-width="1.5" stroke-linecap="butt" stroke-linejoin="miter"/><path d="M454.2 306.6L452.6 308L480.2 336L482.8 333.6" fill="none" stroke="#111" stroke-width="0.9"/><line x1="461.4" y1="316.2" x2="463.4" y2="314.2" stroke="#111" stroke-width="1.2" /><line x1="464.8" y1="319.6" x2="466.6" y2="317.8" stroke="#111" stroke-width="1.2" /><line x1="447.91" y1="318.78" x2="444.27" y2="320.88" stroke="#90b898" stroke-width="0.5" /><line x1="447.91" y1="318.78" x2="445.21" y2="315.57" stroke="#90b898" stroke-width="0.5" /><line x1="454.8" y1="320" x2="447.91" y2="318.78" stroke="#90b898" stroke-width="0.5" /><circle cx="451.35" cy="319.39" r="0.9" fill="#fff" stroke="#90b898" stroke-width="0.6"/><circle cx="447.91" cy="318.78" r="0.9" fill="#fff" stroke="#90b898" stroke-width="0.6"/><circle cx="445.21" cy="315.57" r="0.9" fill="#fff" stroke="#90b898" stroke-width="0.6"/><circle cx="444.27" cy="320.88" r="0.9" fill="#fff" stroke="#90b898" stroke-width="0.6"/><line x1="444.64" y1="344.85" x2="443.69" y2="348.94" stroke="#90b898" stroke-width="0.5" /><line x1="444.64" y1="344.85" x2="440.44" y2="344.63" stroke="#90b898" stroke-width="0.5" /><line x1="467" y1="328" x2="444.64" y2="344.85" stroke="#90b898" stroke-width="0.5" /><circle cx="464.2" cy="330.11" r="0.9" fill="#fff" stroke="#90b898" stroke-width="0.6"/><circle cx="461.41" cy="332.21" r="0.9" fill="#fff" stroke="#90b898" stroke-width="0.6"/><circle cx="458.61" cy="334.32" r="0.9" fill="#fff" stroke="#90b898" stroke-width="0.6"/><circle cx="455.82" cy="336.43" r="0.9" fill="#fff" stroke="#90b898" stroke-width="0.6"/><circle cx="453.02" cy="338.53" r="0.9" fill="#fff" stroke="#90b898" stroke-width="0.6"/><circle cx="450.23" cy="340.64" r="0.9" fill="#fff" stroke="#90b898" stroke-width="0.6"/><circle cx="447.43" cy="342.74" r="0.9" fill="#fff" stroke="#90b898" stroke-width="0.6"/><circle cx="444.64" cy="344.85" r="0.9" fill="#fff" stroke="#90b898" stroke-width="0.6"/><circle cx="440.44" cy="344.63" r="0.9" fill="#fff" stroke="#90b898" stroke-width="0.6"/><circle cx="443.69" cy="348.94" r="0.9" fill="#fff" stroke="#90b898" stroke-width="0.6"/><line x1="473.35" y1="351.63" x2="476.79" y2="354.03" stroke="#90b898" stroke-width="0.5" /><line x1="473.35" y1="351.63" x2="471.57" y2="355.43" stroke="#90b898" stroke-width="0.5" /><line x1="470.5" y1="341" x2="473.35" y2="351.63" stroke="#90b898" stroke-width="0.5" /><circle cx="471.45" cy="344.54" r="0.9" fill="#fff" stroke="#90b898" stroke-width="0.6"/><circle cx="472.4" cy="348.08" r="0.9" fill="#fff" stroke="#90b898" stroke-width="0.6"/><circle cx="473.35" cy="351.63" r="0.9" fill="#fff" stroke="#90b898" stroke-width="0.6"/><circle cx="471.57" cy="355.43" r="0.9" fill="#fff" stroke="#90b898" stroke-width="0.6"/><circle cx="476.79" cy="354.03" r="0.9" fill="#fff" stroke="#90b898" stroke-width="0.6"/><line x1="465.98" y1="358.38" x2="462.17" y2="360.15" stroke="#90b898" stroke-width="0.5" /><line x1="465.98" y1="358.38" x2="463.57" y2="354.94" stroke="#90b898" stroke-width="0.5" /><line x1="479.5" y1="362" x2="465.98" y2="358.38" stroke="#90b898" stroke-width="0.5" /><circle cx="476.12" cy="361.09" r="0.9" fill="#fff" stroke="#90b898" stroke-width="0.6"/><circle cx="472.74" cy="360.19" r="0.9" fill="#fff" stroke="#90b898" stroke-width="0.6"/><circle cx="469.36" cy="359.28" r="0.9" fill="#fff" stroke="#90b898" stroke-width="0.6"/><circle cx="465.98" cy="358.38" r="0.9" fill="#fff" stroke="#90b898" stroke-width="0.6"/><circle cx="463.57" cy="354.94" r="0.9" fill="#fff" stroke="#90b898" stroke-width="0.6"/><circle cx="462.17" cy="360.15" r="0.9" fill="#fff" stroke="#90b898" stroke-width="0.6"/><line x1="469.5" y1="372.5" x2="466.28" y2="375.2" stroke="#90b898" stroke-width="0.5" /><line x1="469.5" y1="372.5" x2="466.28" y2="369.8" stroke="#90b898" stroke-width="0.5" /><line x1="479.5" y1="372.5" x2="469.5" y2="372.5" stroke="#90b898" stroke-width="0.5" /><circle cx="476.17" cy="372.5" r="0.9" fill="#fff" stroke="#90b898" stroke-width="0.6"/><circle cx="472.83" cy="372.5" r="0.9" fill="#fff" stroke="#90b898" stroke-width="0.6"/><circle cx="469.5" cy="372.5" r="0.9" fill="#fff" stroke="#90b898" stroke-width="0.6"/><circle cx="466.28" cy="369.8" r="0.9" fill="#fff" stroke="#90b898" stroke-width="0.6"/><circle cx="466.28" cy="375.2" r="0.9" fill="#fff" stroke="#90b898" stroke-width="0.6"/><line x1="467.28" y1="387.45" x2="465.18" y2="391.08" stroke="#90b898" stroke-width="0.5" /><line x1="467.28" y1="387.45" x2="463.34" y2="386.01" stroke="#90b898" stroke-width="0.5" /><line x1="479.5" y1="383" x2="467.28" y2="387.45" stroke="#90b898" stroke-width="0.5" /><circle cx="476.45" cy="384.11" r="0.9" fill="#fff" stroke="#90b898" stroke-width="0.6"/><circle cx="473.39" cy="385.22" r="0.9" fill="#fff" stroke="#90b898" stroke-width="0.6"/><circle cx="470.34" cy="386.33" r="0.9" fill="#fff" stroke="#90b898" stroke-width="0.6"/><circle cx="467.28" cy="387.45" r="0.9" fill="#fff" stroke="#90b898" stroke-width="0.6"/><circle cx="463.34" cy="386.01" r="0.9" fill="#fff" stroke="#90b898" stroke-width="0.6"/><circle cx="465.18" cy="391.08" r="0.9" fill="#fff" stroke="#90b898" stroke-width="0.6"/></g><path d="M484.8 350L486.9 349.4L489 350.6L491.1 349.4L493.2 350" fill="none" stroke="#333" stroke-width="0.6"/><path d="M484.8 368L486.9 367.4L489 368.6L491.1 367.4L493.2 368" fill="none" stroke="#667" stroke-width="0.5"/><text x="489.2" y="277.5" font-size="12.6" text-anchor="middle" font-weight="normal" fill="#111" textLength="17" lengthAdjust="spacingAndGlyphs">IgE</text><text x="448.3" y="278.3" font-size="4.2" text-anchor="middle" font-weight="normal" fill="#555" transform="rotate(45 448.3 278.3)" dominant-baseline="central">(V<tspan font-size="70%" dy="0.5">L</tspan><tspan dy="-0.5">)</tspan></text><text x="529.7" y="278.3" font-size="4.2" text-anchor="middle" font-weight="normal" fill="#555" transform="rotate(-45 529.7 278.3)" dominant-baseline="central">(V<tspan font-size="70%" dy="0.5">L</tspan><tspan dy="-0.5">)</tspan></text><text x="429.2" y="301.7" font-size="4.2" text-anchor="middle" font-weight="normal" fill="#555" transform="rotate(45 429.2 301.7)" dominant-baseline="central">(V<tspan font-size="70%" dy="0.5">H</tspan><tspan dy="-0.5">)</tspan></text><text x="548.8" y="301.7" font-size="4.2" text-anchor="middle" font-weight="normal" fill="#555" transform="rotate(-45 548.8 301.7)" dominant-baseline="central">(V<tspan font-size="70%" dy="0.5">H</tspan><tspan dy="-0.5">)</tspan></text><text x="481.7" y="308.3" font-size="4.2" text-anchor="middle" font-weight="normal" fill="#555" transform="rotate(50 481.7 308.3)" dominant-baseline="central">(C<tspan font-size="70%" dy="0.5">L</tspan><tspan dy="-0.5">)</tspan></text><text x="495.8" y="307.5" font-size="4.2" text-anchor="middle" font-weight="normal" fill="#555" transform="rotate(-50 495.8 307.5)" dominant-baseline="central">(C<tspan font-size="70%" dy="0.5">L</tspan><tspan dy="-0.5">)</tspan></text><text x="440.3" y="337.5" font-size="5.2" text-anchor="middle" font-weight="bold" fill="#000" transform="rotate(62 440.3 337.5)" dominant-baseline="central">(C<tspan font-size="75%" dy="0.6">&#949;1</tspan><tspan dy="-0.6">)</tspan></text><text x="538" y="336.5" font-size="5.2" text-anchor="middle" font-weight="bold" fill="#000" transform="rotate(-62 538 336.5)" dominant-baseline="central">(C<tspan font-size="75%" dy="0.6">&#949;1</tspan><tspan dy="-0.6">)</tspan></text><text x="455" y="371.2" font-size="5" text-anchor="middle" font-weight="bold" fill="#000" dominant-baseline="central">(C<tspan font-size="75%" dy="0.6">&#949;2</tspan><tspan dy="-0.6">)</tspan></text><text x="521.8" y="371.2" font-size="5" text-anchor="middle" font-weight="bold" fill="#000" dominant-baseline="central">(C<tspan font-size="75%" dy="0.6">&#949;2</tspan><tspan dy="-0.6">)</tspan></text><text x="471.2" y="433.5" font-size="5" text-anchor="middle" font-weight="bold" fill="#000" dominant-baseline="central">(C<tspan font-size="75%" dy="0.6">&#949;3</tspan><tspan dy="-0.6">)</tspan></text><text x="506.8" y="433.5" font-size="5" text-anchor="middle" font-weight="bold" fill="#000" dominant-baseline="central">(C<tspan font-size="75%" dy="0.6">&#949;3</tspan><tspan dy="-0.6">)</tspan></text>
<g><path d="M269 174.6L295.3 200.5" fill="none" stroke="#3c3c8c" stroke-width="2.7" stroke-linecap="butt" stroke-linejoin="miter"/><path d="M269 174.6L295.3 200.5" fill="none" stroke="#7878c8" stroke-width="1.1" stroke-linecap="butt" stroke-linejoin="miter"/><path d="M295 200.2L300.38 205.71L300.59 205.5A3.3 3.3 0 0 1 305.2 210.23L304.98 210.44L310.8 216.4" fill="none" stroke="#4a38a0" stroke-width="2.7" stroke-linecap="butt" stroke-linejoin="miter"/><path d="M295 200.2L300.38 205.71L300.59 205.5A3.3 3.3 0 0 1 305.2 210.23L304.98 210.44L310.8 216.4" fill="none" stroke="#8870d8" stroke-width="1.1" stroke-linecap="butt" stroke-linejoin="miter"/><path d="M265 179L286.3 201.3" fill="none" stroke="#9858a8" stroke-width="2.7" stroke-linecap="butt" stroke-linejoin="miter"/><path d="M265 179L286.3 201.3" fill="none" stroke="#cc98d8" stroke-width="1.1" stroke-linecap="butt" stroke-linejoin="miter"/><path d="M286 201L287.8 202.74L287.52 203.03A3.3 3.3 0 0 0 292.26 207.62L292.54 207.33L295.12 209.84L294.84 210.12A3.3 3.3 0 0 0 299.58 214.72L299.86 214.43L308.3 222.6" fill="none" stroke="#a85050" stroke-width="2.7" stroke-linecap="butt" stroke-linejoin="miter"/><path d="M286 201L287.8 202.74L287.52 203.03A3.3 3.3 0 0 0 292.26 207.62L292.54 207.33L295.12 209.84L294.84 210.12A3.3 3.3 0 0 0 299.58 214.72L299.86 214.43L308.3 222.6" fill="none" stroke="#e08c84" stroke-width="1.1" stroke-linecap="butt" stroke-linejoin="miter"/><path d="M308.3 221.8L308.3 235.6" fill="none" stroke="#b07048" stroke-width="2.7" stroke-linecap="butt" stroke-linejoin="miter"/><path d="M308.3 221.8L308.3 235.6" fill="none" stroke="#e0a078" stroke-width="1.1" stroke-linecap="butt" stroke-linejoin="miter"/><path d="M308.3 235.3L308.3 238.1L307.1 238.1A3.2 3.2 0 0 0 307.1 244.5L308.3 244.5L308.3 246.3L307.1 246.3A3.2 3.2 0 0 0 307.1 252.7L308.3 252.7L308.3 257" fill="none" stroke="#a08838" stroke-width="2.7" stroke-linecap="butt" stroke-linejoin="miter"/><path d="M308.3 235.3L308.3 238.1L307.1 238.1A3.2 3.2 0 0 0 307.1 244.5L308.3 244.5L308.3 246.3L307.1 246.3A3.2 3.2 0 0 0 307.1 252.7L308.3 252.7L308.3 257" fill="none" stroke="#e8d088" stroke-width="1.1" stroke-linecap="butt" stroke-linejoin="miter"/><path d="M308.3 256.7L308.3 272.1L307.8 272.1A3.2 3.2 0 0 0 307.8 278.5L308.3 278.5L308.3 293.5" fill="none" stroke="#8c3636" stroke-width="2.7" stroke-linecap="butt" stroke-linejoin="miter"/><path d="M308.3 256.7L308.3 272.1L307.8 272.1A3.2 3.2 0 0 0 307.8 278.5L308.3 278.5L308.3 293.5" fill="none" stroke="#e07c7c" stroke-width="1.1" stroke-linecap="butt" stroke-linejoin="miter"/><path d="M303.2 242.4Q300.4 246.8 303.4 251.2" fill="none" stroke="#111" stroke-width="1.5"/><line x1="289" y1="200" x2="307.3" y2="218" stroke="#111" stroke-width="1.5" /><line x1="302.5" y1="262.7" x2="307.5" y2="262.7" stroke="#222" stroke-width="1.2" /><line x1="303.5" y1="290.8" x2="307.5" y2="290.8" stroke="#222" stroke-width="1.2" /><line x1="301" y1="223.5" x2="301" y2="233" stroke="#b090d8" stroke-width="0.9" stroke-dasharray="1.2 0.8"/><line x1="303.4" y1="223.5" x2="303.4" y2="233" stroke="#b090d8" stroke-width="0.9" stroke-dasharray="1.2 0.8"/><line x1="297.27" y1="238.98" x2="293.08" y2="239.35" stroke="#b4c4b0" stroke-width="0.5" /><line x1="297.27" y1="238.98" x2="296.18" y2="234.93" stroke="#b4c4b0" stroke-width="0.5" /><line x1="303" y1="243" x2="297.27" y2="238.98" stroke="#b4c4b0" stroke-width="0.5" /><circle cx="300.13" cy="240.99" r="0.9" fill="#fff" stroke="#b4c4b0" stroke-width="0.6"/><circle cx="297.27" cy="238.98" r="0.9" fill="#fff" stroke="#b4c4b0" stroke-width="0.6"/><circle cx="296.18" cy="234.93" r="0.9" fill="#fff" stroke="#b4c4b0" stroke-width="0.6"/><circle cx="293.08" cy="239.35" r="0.9" fill="#fff" stroke="#b4c4b0" stroke-width="0.6"/><line x1="300.36" y1="289.95" x2="296.42" y2="291.38" stroke="#b4c4b0" stroke-width="0.5" /><line x1="300.36" y1="289.95" x2="298.26" y2="286.31" stroke="#b4c4b0" stroke-width="0.5" /><line x1="306" y1="292" x2="300.36" y2="289.95" stroke="#b4c4b0" stroke-width="0.5" /><circle cx="303.18" cy="290.97" r="0.9" fill="#fff" stroke="#b4c4b0" stroke-width="0.6"/><circle cx="300.36" cy="289.95" r="0.9" fill="#fff" stroke="#b4c4b0" stroke-width="0.6"/><circle cx="298.26" cy="286.31" r="0.9" fill="#fff" stroke="#b4c4b0" stroke-width="0.6"/><circle cx="296.42" cy="291.38" r="0.9" fill="#fff" stroke="#b4c4b0" stroke-width="0.6"/></g><g transform="translate(624.6 0) scale(-1 1)"><path d="M269 174.6L295.3 200.5" fill="none" stroke="#3c3c8c" stroke-width="2.7" stroke-linecap="butt" stroke-linejoin="miter"/><path d="M269 174.6L295.3 200.5" fill="none" stroke="#7878c8" stroke-width="1.1" stroke-linecap="butt" stroke-linejoin="miter"/><path d="M295 200.2L300.38 205.71L300.59 205.5A3.3 3.3 0 0 1 305.2 210.23L304.98 210.44L310.8 216.4" fill="none" stroke="#4a38a0" stroke-width="2.7" stroke-linecap="butt" stroke-linejoin="miter"/><path d="M295 200.2L300.38 205.71L300.59 205.5A3.3 3.3 0 0 1 305.2 210.23L304.98 210.44L310.8 216.4" fill="none" stroke="#8870d8" stroke-width="1.1" stroke-linecap="butt" stroke-linejoin="miter"/><path d="M265 179L286.3 201.3" fill="none" stroke="#9858a8" stroke-width="2.7" stroke-linecap="butt" stroke-linejoin="miter"/><path d="M265 179L286.3 201.3" fill="none" stroke="#cc98d8" stroke-width="1.1" stroke-linecap="butt" stroke-linejoin="miter"/><path d="M286 201L287.8 202.74L287.52 203.03A3.3 3.3 0 0 0 292.26 207.62L292.54 207.33L295.12 209.84L294.84 210.12A3.3 3.3 0 0 0 299.58 214.72L299.86 214.43L308.3 222.6" fill="none" stroke="#a85050" stroke-width="2.7" stroke-linecap="butt" stroke-linejoin="miter"/><path d="M286 201L287.8 202.74L287.52 203.03A3.3 3.3 0 0 0 292.26 207.62L292.54 207.33L295.12 209.84L294.84 210.12A3.3 3.3 0 0 0 299.58 214.72L299.86 214.43L308.3 222.6" fill="none" stroke="#e08c84" stroke-width="1.1" stroke-linecap="butt" stroke-linejoin="miter"/><path d="M308.3 221.8L308.3 235.6" fill="none" stroke="#b07048" stroke-width="2.7" stroke-linecap="butt" stroke-linejoin="miter"/><path d="M308.3 221.8L308.3 235.6" fill="none" stroke="#e0a078" stroke-width="1.1" stroke-linecap="butt" stroke-linejoin="miter"/><path d="M308.3 235.3L308.3 238.1L307.1 238.1A3.2 3.2 0 0 0 307.1 244.5L308.3 244.5L308.3 246.3L307.1 246.3A3.2 3.2 0 0 0 307.1 252.7L308.3 252.7L308.3 257" fill="none" stroke="#a08838" stroke-width="2.7" stroke-linecap="butt" stroke-linejoin="miter"/><path d="M308.3 235.3L308.3 238.1L307.1 238.1A3.2 3.2 0 0 0 307.1 244.5L308.3 244.5L308.3 246.3L307.1 246.3A3.2 3.2 0 0 0 307.1 252.7L308.3 252.7L308.3 257" fill="none" stroke="#e8d088" stroke-width="1.1" stroke-linecap="butt" stroke-linejoin="miter"/><path d="M308.3 256.7L308.3 272.1L307.8 272.1A3.2 3.2 0 0 0 307.8 278.5L308.3 278.5L308.3 293.5" fill="none" stroke="#8c3636" stroke-width="2.7" stroke-linecap="butt" stroke-linejoin="miter"/><path d="M308.3 256.7L308.3 272.1L307.8 272.1A3.2 3.2 0 0 0 307.8 278.5L308.3 278.5L308.3 293.5" fill="none" stroke="#e07c7c" stroke-width="1.1" stroke-linecap="butt" stroke-linejoin="miter"/><path d="M303.2 242.4Q300.4 246.8 303.4 251.2" fill="none" stroke="#111" stroke-width="1.5"/><line x1="289" y1="200" x2="307.3" y2="218" stroke="#111" stroke-width="1.5" /><line x1="302.5" y1="262.7" x2="307.5" y2="262.7" stroke="#222" stroke-width="1.2" /><line x1="303.5" y1="290.8" x2="307.5" y2="290.8" stroke="#222" stroke-width="1.2" /><line x1="301" y1="223.5" x2="301" y2="233" stroke="#b090d8" stroke-width="0.9" stroke-dasharray="1.2 0.8"/><line x1="303.4" y1="223.5" x2="303.4" y2="233" stroke="#b090d8" stroke-width="0.9" stroke-dasharray="1.2 0.8"/><line x1="297.27" y1="238.98" x2="293.08" y2="239.35" stroke="#b4c4b0" stroke-width="0.5" /><line x1="297.27" y1="238.98" x2="296.18" y2="234.93" stroke="#b4c4b0" stroke-width="0.5" /><line x1="303" y1="243" x2="297.27" y2="238.98" stroke="#b4c4b0" stroke-width="0.5" /><circle cx="300.13" cy="240.99" r="0.9" fill="#fff" stroke="#b4c4b0" stroke-width="0.6"/><circle cx="297.27" cy="238.98" r="0.9" fill="#fff" stroke="#b4c4b0" stroke-width="0.6"/><circle cx="296.18" cy="234.93" r="0.9" fill="#fff" stroke="#b4c4b0" stroke-width="0.6"/><circle cx="293.08" cy="239.35" r="0.9" fill="#fff" stroke="#b4c4b0" stroke-width="0.6"/><line x1="300.36" y1="289.95" x2="296.42" y2="291.38" stroke="#b4c4b0" stroke-width="0.5" /><line x1="300.36" y1="289.95" x2="298.26" y2="286.31" stroke="#b4c4b0" stroke-width="0.5" /><line x1="306" y1="292" x2="300.36" y2="289.95" stroke="#b4c4b0" stroke-width="0.5" /><circle cx="303.18" cy="290.97" r="0.9" fill="#fff" stroke="#b4c4b0" stroke-width="0.6"/><circle cx="300.36" cy="289.95" r="0.9" fill="#fff" stroke="#b4c4b0" stroke-width="0.6"/><circle cx="298.26" cy="286.31" r="0.9" fill="#fff" stroke="#b4c4b0" stroke-width="0.6"/><circle cx="296.42" cy="291.38" r="0.9" fill="#fff" stroke="#b4c4b0" stroke-width="0.6"/></g><path d="M310 234.7L311.2 234.2L312.4 235.2L313.6 234.2L314.8 234.7" fill="none" stroke="#333" stroke-width="0.6"/><g transform="translate(0 602.4) scale(1 -1)"><g><path d="M269 174.6L295.3 200.5" fill="none" stroke="#3c3c8c" stroke-width="2.7" stroke-linecap="butt" stroke-linejoin="miter"/><path d="M269 174.6L295.3 200.5" fill="none" stroke="#7878c8" stroke-width="1.1" stroke-linecap="butt" stroke-linejoin="miter"/><path d="M295 200.2L300.38 205.71L300.59 205.5A3.3 3.3 0 0 1 305.2 210.23L304.98 210.44L310.8 216.4" fill="none" stroke="#4a38a0" stroke-width="2.7" stroke-linecap="butt" stroke-linejoin="miter"/><path d="M295 200.2L300.38 205.71L300.59 205.5A3.3 3.3 0 0 1 305.2 210.23L304.98 210.44L310.8 216.4" fill="none" stroke="#8870d8" stroke-width="1.1" stroke-linecap="butt" stroke-linejoin="miter"/><path d="M265 179L286.3 201.3" fill="none" stroke="#9858a8" stroke-width="2.7" stroke-linecap="butt" stroke-linejoin="miter"/><path d="M265 179L286.3 201.3" fill="none" stroke="#cc98d8" stroke-width="1.1" stroke-linecap="butt" stroke-linejoin="miter"/><path d="M286 201L287.8 202.74L287.52 203.03A3.3 3.3 0 0 0 292.26 207.62L292.54 207.33L295.12 209.84L294.84 210.12A3.3 3.3 0 0 0 299.58 214.72L299.86 214.43L308.3 222.6" fill="none" stroke="#a85050" stroke-width="2.7" stroke-linecap="butt" stroke-linejoin="miter"/><path d="M286 201L287.8 202.74L287.52 203.03A3.3 3.3 0 0 0 292.26 207.62L292.54 207.33L295.12 209.84L294.84 210.12A3.3 3.3 0 0 0 299.58 214.72L299.86 214.43L308.3 222.6" fill="none" stroke="#e08c84" stroke-width="1.1" stroke-linecap="butt" stroke-linejoin="miter"/><path d="M308.3 221.8L308.3 235.6" fill="none" stroke="#b07048" stroke-width="2.7" stroke-linecap="butt" stroke-linejoin="miter"/><path d="M308.3 221.8L308.3 235.6" fill="none" stroke="#e0a078" stroke-width="1.1" stroke-linecap="butt" stroke-linejoin="miter"/><path d="M308.3 235.3L308.3 238.1L307.1 238.1A3.2 3.2 0 0 0 307.1 244.5L308.3 244.5L308.3 246.3L307.1 246.3A3.2 3.2 0 0 0 307.1 252.7L308.3 252.7L308.3 257" fill="none" stroke="#a08838" stroke-width="2.7" stroke-linecap="butt" stroke-linejoin="miter"/><path d="M308.3 235.3L308.3 238.1L307.1 238.1A3.2 3.2 0 0 0 307.1 244.5L308.3 244.5L308.3 246.3L307.1 246.3A3.2 3.2 0 0 0 307.1 252.7L308.3 252.7L308.3 257" fill="none" stroke="#e8d088" stroke-width="1.1" stroke-linecap="butt" stroke-linejoin="miter"/><path d="M308.3 256.7L308.3 272.1L307.8 272.1A3.2 3.2 0 0 0 307.8 278.5L308.3 278.5L308.3 293.5" fill="none" stroke="#8c3636" stroke-width="2.7" stroke-linecap="butt" stroke-linejoin="miter"/><path d="M308.3 256.7L308.3 272.1L307.8 272.1A3.2 3.2 0 0 0 307.8 278.5L308.3 278.5L308.3 293.5" fill="none" stroke="#e07c7c" stroke-width="1.1" stroke-linecap="butt" stroke-linejoin="miter"/><path d="M303.2 242.4Q300.4 246.8 303.4 251.2" fill="none" stroke="#111" stroke-width="1.5"/><line x1="289" y1="200" x2="307.3" y2="218" stroke="#111" stroke-width="1.5" /><line x1="302.5" y1="262.7" x2="307.5" y2="262.7" stroke="#222" stroke-width="1.2" /><line x1="303.5" y1="290.8" x2="307.5" y2="290.8" stroke="#222" stroke-width="1.2" /><line x1="301" y1="223.5" x2="301" y2="233" stroke="#b090d8" stroke-width="0.9" stroke-dasharray="1.2 0.8"/><line x1="303.4" y1="223.5" x2="303.4" y2="233" stroke="#b090d8" stroke-width="0.9" stroke-dasharray="1.2 0.8"/><line x1="297.27" y1="238.98" x2="293.08" y2="239.35" stroke="#b4c4b0" stroke-width="0.5" /><line x1="297.27" y1="238.98" x2="296.18" y2="234.93" stroke="#b4c4b0" stroke-width="0.5" /><line x1="303" y1="243" x2="297.27" y2="238.98" stroke="#b4c4b0" stroke-width="0.5" /><circle cx="300.13" cy="240.99" r="0.9" fill="#fff" stroke="#b4c4b0" stroke-width="0.6"/><circle cx="297.27" cy="238.98" r="0.9" fill="#fff" stroke="#b4c4b0" stroke-width="0.6"/><circle cx="296.18" cy="234.93" r="0.9" fill="#fff" stroke="#b4c4b0" stroke-width="0.6"/><circle cx="293.08" cy="239.35" r="0.9" fill="#fff" stroke="#b4c4b0" stroke-width="0.6"/><line x1="300.36" y1="289.95" x2="296.42" y2="291.38" stroke="#b4c4b0" stroke-width="0.5" /><line x1="300.36" y1="289.95" x2="298.26" y2="286.31" stroke="#b4c4b0" stroke-width="0.5" /><line x1="306" y1="292" x2="300.36" y2="289.95" stroke="#b4c4b0" stroke-width="0.5" /><circle cx="303.18" cy="290.97" r="0.9" fill="#fff" stroke="#b4c4b0" stroke-width="0.6"/><circle cx="300.36" cy="289.95" r="0.9" fill="#fff" stroke="#b4c4b0" stroke-width="0.6"/><circle cx="298.26" cy="286.31" r="0.9" fill="#fff" stroke="#b4c4b0" stroke-width="0.6"/><circle cx="296.42" cy="291.38" r="0.9" fill="#fff" stroke="#b4c4b0" stroke-width="0.6"/></g><g transform="translate(624.6 0) scale(-1 1)"><path d="M269 174.6L295.3 200.5" fill="none" stroke="#3c3c8c" stroke-width="2.7" stroke-linecap="butt" stroke-linejoin="miter"/><path d="M269 174.6L295.3 200.5" fill="none" stroke="#7878c8" stroke-width="1.1" stroke-linecap="butt" stroke-linejoin="miter"/><path d="M295 200.2L300.38 205.71L300.59 205.5A3.3 3.3 0 0 1 305.2 210.23L304.98 210.44L310.8 216.4" fill="none" stroke="#4a38a0" stroke-width="2.7" stroke-linecap="butt" stroke-linejoin="miter"/><path d="M295 200.2L300.38 205.71L300.59 205.5A3.3 3.3 0 0 1 305.2 210.23L304.98 210.44L310.8 216.4" fill="none" stroke="#8870d8" stroke-width="1.1" stroke-linecap="butt" stroke-linejoin="miter"/><path d="M265 179L286.3 201.3" fill="none" stroke="#9858a8" stroke-width="2.7" stroke-linecap="butt" stroke-linejoin="miter"/><path d="M265 179L286.3 201.3" fill="none" stroke="#cc98d8" stroke-width="1.1" stroke-linecap="butt" stroke-linejoin="miter"/><path d="M286 201L287.8 202.74L287.52 203.03A3.3 3.3 0 0 0 292.26 207.62L292.54 207.33L295.12 209.84L294.84 210.12A3.3 3.3 0 0 0 299.58 214.72L299.86 214.43L308.3 222.6" fill="none" stroke="#a85050" stroke-width="2.7" stroke-linecap="butt" stroke-linejoin="miter"/><path d="M286 201L287.8 202.74L287.52 203.03A3.3 3.3 0 0 0 292.26 207.62L292.54 207.33L295.12 209.84L294.84 210.12A3.3 3.3 0 0 0 299.58 214.72L299.86 214.43L308.3 222.6" fill="none" stroke="#e08c84" stroke-width="1.1" stroke-linecap="butt" stroke-linejoin="miter"/><path d="M308.3 221.8L308.3 235.6" fill="none" stroke="#b07048" stroke-width="2.7" stroke-linecap="butt" stroke-linejoin="miter"/><path d="M308.3 221.8L308.3 235.6" fill="none" stroke="#e0a078" stroke-width="1.1" stroke-linecap="butt" stroke-linejoin="miter"/><path d="M308.3 235.3L308.3 238.1L307.1 238.1A3.2 3.2 0 0 0 307.1 244.5L308.3 244.5L308.3 246.3L307.1 246.3A3.2 3.2 0 0 0 307.1 252.7L308.3 252.7L308.3 257" fill="none" stroke="#a08838" stroke-width="2.7" stroke-linecap="butt" stroke-linejoin="miter"/><path d="M308.3 235.3L308.3 238.1L307.1 238.1A3.2 3.2 0 0 0 307.1 244.5L308.3 244.5L308.3 246.3L307.1 246.3A3.2 3.2 0 0 0 307.1 252.7L308.3 252.7L308.3 257" fill="none" stroke="#e8d088" stroke-width="1.1" stroke-linecap="butt" stroke-linejoin="miter"/><path d="M308.3 256.7L308.3 272.1L307.8 272.1A3.2 3.2 0 0 0 307.8 278.5L308.3 278.5L308.3 293.5" fill="none" stroke="#8c3636" stroke-width="2.7" stroke-linecap="butt" stroke-linejoin="miter"/><path d="M308.3 256.7L308.3 272.1L307.8 272.1A3.2 3.2 0 0 0 307.8 278.5L308.3 278.5L308.3 293.5" fill="none" stroke="#e07c7c" stroke-width="1.1" stroke-linecap="butt" stroke-linejoin="miter"/><path d="M303.2 242.4Q300.4 246.8 303.4 251.2" fill="none" stroke="#111" stroke-width="1.5"/><line x1="289" y1="200" x2="307.3" y2="218" stroke="#111" stroke-width="1.5" /><line x1="302.5" y1="262.7" x2="307.5" y2="262.7" stroke="#222" stroke-width="1.2" /><line x1="303.5" y1="290.8" x2="307.5" y2="290.8" stroke="#222" stroke-width="1.2" /><line x1="301" y1="223.5" x2="301" y2="233" stroke="#b090d8" stroke-width="0.9" stroke-dasharray="1.2 0.8"/><line x1="303.4" y1="223.5" x2="303.4" y2="233" stroke="#b090d8" stroke-width="0.9" stroke-dasharray="1.2 0.8"/><line x1="297.27" y1="238.98" x2="293.08" y2="239.35" stroke="#b4c4b0" stroke-width="0.5" /><line x1="297.27" y1="238.98" x2="296.18" y2="234.93" stroke="#b4c4b0" stroke-width="0.5" /><line x1="303" y1="243" x2="297.27" y2="238.98" stroke="#b4c4b0" stroke-width="0.5" /><circle cx="300.13" cy="240.99" r="0.9" fill="#fff" stroke="#b4c4b0" stroke-width="0.6"/><circle cx="297.27" cy="238.98" r="0.9" fill="#fff" stroke="#b4c4b0" stroke-width="0.6"/><circle cx="296.18" cy="234.93" r="0.9" fill="#fff" stroke="#b4c4b0" stroke-width="0.6"/><circle cx="293.08" cy="239.35" r="0.9" fill="#fff" stroke="#b4c4b0" stroke-width="0.6"/><line x1="300.36" y1="289.95" x2="296.42" y2="291.38" stroke="#b4c4b0" stroke-width="0.5" /><line x1="300.36" y1="289.95" x2="298.26" y2="286.31" stroke="#b4c4b0" stroke-width="0.5" /><line x1="306" y1="292" x2="300.36" y2="289.95" stroke="#b4c4b0" stroke-width="0.5" /><circle cx="303.18" cy="290.97" r="0.9" fill="#fff" stroke="#b4c4b0" stroke-width="0.6"/><circle cx="300.36" cy="289.95" r="0.9" fill="#fff" stroke="#b4c4b0" stroke-width="0.6"/><circle cx="298.26" cy="286.31" r="0.9" fill="#fff" stroke="#b4c4b0" stroke-width="0.6"/><circle cx="296.42" cy="291.38" r="0.9" fill="#fff" stroke="#b4c4b0" stroke-width="0.6"/></g><path d="M310 234.7L311.2 234.2L312.4 235.2L313.6 234.2L314.8 234.7" fill="none" stroke="#333" stroke-width="0.6"/></g><path d="M319.5 263.3C335 262 345.5 272 344.6 286C343.8 300 337 311.5 324 313.6L303 314.2C290 315 279 320 278.7 328.3C278.7 336 290 340.6 303.7 341.3" fill="none" stroke="#5444b0" stroke-width="2.8" stroke-linecap="butt" stroke-linejoin="miter"/><path d="M319.5 263.3C335 262 345.5 272 344.6 286C343.8 300 337 311.5 324 313.6L303 314.2C290 315 279 320 278.7 328.3C278.7 336 290 340.6 303.7 341.3" fill="none" stroke="#a49cf0" stroke-width="1.2" stroke-linecap="butt" stroke-linejoin="miter"/><path d="M320 296.2L306.6 296.2A5.9 5.9 0 0 0 306.6 308L320 308" fill="none" stroke="#a83cb0" stroke-width="2.5" stroke-linecap="butt" stroke-linejoin="miter"/><path d="M320 296.2L306.6 296.2A5.9 5.9 0 0 0 306.6 308L320 308" fill="none" stroke="#e49ce8" stroke-width="1" stroke-linecap="butt" stroke-linejoin="miter"/><path d="M312 296.2L312 308M315.6 296.2L315.6 308M312 300L315.6 300M312 304.2L315.6 304.2" fill="none" stroke="#c048c0" stroke-width="1.6"/><line x1="278.7" y1="301.3" x2="297.8" y2="301.3" stroke="#111" stroke-width="1.2" /><line x1="287" y1="341.7" x2="279.5" y2="350" stroke="#111" stroke-width="1.3" /><text x="311.8" y="164.6" font-size="13.2" text-anchor="middle" font-weight="normal" fill="#111" textLength="58.4" lengthAdjust="spacingAndGlyphs">IgA Dimer</text><text x="249.8" y="303" font-size="7" text-anchor="start" font-weight="normal" fill="#0a0a0a" stroke="#0a0a0a" stroke-width="0.09">J Chain</text><text x="249.8" y="357.2" font-size="7" text-anchor="start" font-weight="normal" fill="#0a0a0a" stroke="#0a0a0a" stroke-width="0.09">Secretory</text><text x="249.8" y="367.4" font-size="7" text-anchor="start" font-weight="normal" fill="#0a0a0a" stroke="#0a0a0a" stroke-width="0.09">Protein</text><text x="287" y="179" font-size="7" text-anchor="middle" font-weight="normal" fill="#333" transform="rotate(50 287 179)" dominant-baseline="central">(V<tspan font-size="70%" dy="0.5">L</tspan><tspan dy="-0.5">)</tspan></text><text x="339" y="179" font-size="7" text-anchor="middle" font-weight="normal" fill="#333" transform="rotate(-50 339 179)" dominant-baseline="central">(V<tspan font-size="70%" dy="0.5">L</tspan><tspan dy="-0.5">)</tspan></text><text x="270" y="197.4" font-size="7" text-anchor="middle" font-weight="normal" fill="#333" transform="rotate(50 270 197.4)" dominant-baseline="central">(V<tspan font-size="70%" dy="0.5">H</tspan><tspan dy="-0.5">)</tspan></text><text x="357" y="198.6" font-size="7" text-anchor="middle" font-weight="normal" fill="#333" transform="rotate(-50 357 198.6)" dominant-baseline="central">(V<tspan font-size="70%" dy="0.5">H</tspan><tspan dy="-0.5">)</tspan></text><text x="305.8" y="200.6" font-size="6.2" text-anchor="middle" font-weight="normal" fill="#333" transform="rotate(55 305.8 200.6)" dominant-baseline="central">(C<tspan font-size="70%" dy="0.5">L</tspan><tspan dy="-0.5">)</tspan></text><text x="319.2" y="201.4" font-size="6.2" text-anchor="middle" font-weight="normal" fill="#333" transform="rotate(-55 319.2 201.4)" dominant-baseline="central">(C<tspan font-size="70%" dy="0.5">L</tspan><tspan dy="-0.5">)</tspan></text><text x="288" y="220" font-size="7.6" text-anchor="middle" font-weight="bold" fill="#000" transform="rotate(52 288 220)" dominant-baseline="central">(C<tspan font-size="75%" dy="0.6">&#945;1</tspan><tspan dy="-0.6">)</tspan></text><text x="335.5" y="220" font-size="7.6" text-anchor="middle" font-weight="bold" fill="#000" transform="rotate(-52 335.5 220)" dominant-baseline="central">(C<tspan font-size="75%" dy="0.6">&#945;1</tspan><tspan dy="-0.6">)</tspan></text><text x="284.7" y="248.3" font-size="7.4" text-anchor="middle" font-weight="bold" fill="#000" dominant-baseline="central">(C<tspan font-size="75%" dy="0.6">&#945;2</tspan><tspan dy="-0.6">)</tspan></text><text x="339.5" y="248.3" font-size="7.4" text-anchor="middle" font-weight="bold" fill="#000" dominant-baseline="central">(C<tspan font-size="75%" dy="0.6">&#945;2</tspan><tspan dy="-0.6">)</tspan></text><text x="294" y="278" font-size="6.8" text-anchor="middle" font-weight="bold" fill="#000" dominant-baseline="central">(C<tspan font-size="75%" dy="0.6">&#945;3</tspan><tspan dy="-0.6">)</tspan></text><text x="330.3" y="278" font-size="6.8" text-anchor="middle" font-weight="bold" fill="#000" dominant-baseline="central">(C<tspan font-size="75%" dy="0.6">&#945;3</tspan><tspan dy="-0.6">)</tspan></text>
<polygon points="484.8,91.7 525.51,121.27 509.96,169.13 459.64,169.13 444.09,121.27" fill="none" stroke="#161616" stroke-width="1.3"/><line x1="484.8" y1="120.8" x2="497.16" y2="126.59" stroke="#161616" stroke-width="1.3" /><line x1="499.45" y1="133.63" x2="496.14" y2="143.81" stroke="#161616" stroke-width="1.3" /><line x1="473.46" y1="143.81" x2="470.15" y2="133.63" stroke="#161616" stroke-width="1.3" /><line x1="472.44" y1="126.59" x2="484.8" y2="120.8" stroke="#161616" stroke-width="1.3" /><g transform="translate(484.8 134.5) rotate(-90)"><polygon points="14,-3 43,-2.56 43,2.56 14,3" fill="#f6def6"/><polygon points="43,-2.56 58,-2.34 58,2.34 43,2.56" fill="#fce8e8"/><polygon points="58,-2.34 74,-2.1 74,2.1 58,2.34" fill="#fdf3dc"/><line x1="14" y1="-3" x2="43" y2="-2.56" stroke="#b070c8" stroke-width="1.5" /><line x1="14" y1="3" x2="43" y2="2.56" stroke="#b070c8" stroke-width="1.5" /><line x1="43" y1="-2.56" x2="58" y2="-2.34" stroke="#e08c88" stroke-width="1.5" /><line x1="43" y1="2.56" x2="58" y2="2.34" stroke="#e08c88" stroke-width="1.5" /><line x1="58" y1="-2.34" x2="74" y2="-2.1" stroke="#dca878" stroke-width="1.5" /><line x1="58" y1="2.34" x2="74" y2="2.1" stroke="#dca878" stroke-width="1.5" /><circle cx="22" cy="-3.78" r="2.0" fill="#f6def6" stroke="#b070c8" stroke-width="1.1"/><circle cx="22" cy="3.78" r="2.0" fill="#f6def6" stroke="#b070c8" stroke-width="1.1"/><circle cx="43" cy="-3.46" r="2.0" fill="#f8dcec" stroke="#cc74a0" stroke-width="1.1"/><circle cx="43" cy="3.46" r="2.0" fill="#f8dcec" stroke="#cc74a0" stroke-width="1.1"/><circle cx="63.3" cy="-3.16" r="2.0" fill="#fdf3dc" stroke="#dca878" stroke-width="1.1"/><circle cx="63.3" cy="3.16" r="2.0" fill="#fdf3dc" stroke="#dca878" stroke-width="1.1"/><path d="M73.6 -2.1L88 -16.5" fill="none" stroke="#c0707c" stroke-width="2.5" stroke-linecap="butt" stroke-linejoin="miter"/><path d="M73.6 -2.1L88 -16.5" fill="none" stroke="#f4d4d8" stroke-width="0.8" stroke-linecap="butt" stroke-linejoin="miter"/><path d="M87.6 -16.1L101.3 -30.2" fill="none" stroke="#9460bc" stroke-width="2.5" stroke-linecap="butt" stroke-linejoin="miter"/><path d="M87.6 -16.1L101.3 -30.2" fill="none" stroke="#ecd8f6" stroke-width="0.8" stroke-linecap="butt" stroke-linejoin="miter"/><line x1="78.4" y1="-2.9" x2="104.8" y2="-29.4" stroke="#463a84" stroke-width="1.4" /><circle cx="85.7" cy="-7.7" r="2" fill="#fff" stroke="#6a58b0" stroke-width="1.0"/><circle cx="80.6" cy="-12.1" r="2" fill="#fff" stroke="#c47c8c" stroke-width="1.0"/><path d="M30 -7L30.56 -10.15M30.56 -10.15L32.39 -11.69M30.56 -10.15L29.36 -12.23" fill="none" stroke="#b4c8b0" stroke-width="0.6"/><path d="M36 -7.5L35.44 -10.65M35.44 -10.65L36.64 -12.73M35.44 -10.65L33.61 -12.19" fill="none" stroke="#b4c8b0" stroke-width="0.6"/><path d="M48 -7L48.83 -10.09M48.83 -10.09L50.79 -11.47M48.83 -10.09L47.81 -12.27" fill="none" stroke="#b4c8b0" stroke-width="0.6"/><path d="M58 -7.5L57.72 -10.69M57.72 -10.69L59.1 -12.65M57.72 -10.69L56.02 -12.38" fill="none" stroke="#b4c8b0" stroke-width="0.6"/><path d="M68 -7L68.56 -10.15M68.56 -10.15L70.39 -11.69M68.56 -10.15L67.36 -12.23" fill="none" stroke="#b4c8b0" stroke-width="0.6"/><path d="M50 -11L48.4 -13.77M48.4 -13.77L48.82 -16.13M48.4 -13.77L46.14 -14.59" fill="none" stroke="#b4c8b0" stroke-width="0.6"/><path d="M73.6 2.1L88 16.5" fill="none" stroke="#c0707c" stroke-width="2.5" stroke-linecap="butt" stroke-linejoin="miter"/><path d="M73.6 2.1L88 16.5" fill="none" stroke="#f4d4d8" stroke-width="0.8" stroke-linecap="butt" stroke-linejoin="miter"/><path d="M87.6 16.1L101.3 30.2" fill="none" stroke="#9460bc" stroke-width="2.5" stroke-linecap="butt" stroke-linejoin="miter"/><path d="M87.6 16.1L101.3 30.2" fill="none" stroke="#ecd8f6" stroke-width="0.8" stroke-linecap="butt" stroke-linejoin="miter"/><line x1="78.4" y1="2.9" x2="104.8" y2="29.4" stroke="#463a84" stroke-width="1.4" /><circle cx="85.7" cy="7.7" r="2" fill="#fff" stroke="#6a58b0" stroke-width="1.0"/><circle cx="80.6" cy="12.1" r="2" fill="#fff" stroke="#c47c8c" stroke-width="1.0"/><path d="M30 7L30.56 10.15M30.56 10.15L29.36 12.23M30.56 10.15L32.39 11.69" fill="none" stroke="#b4c8b0" stroke-width="0.6"/><path d="M36 7.5L35.44 10.65M35.44 10.65L33.61 12.19M35.44 10.65L36.64 12.73" fill="none" stroke="#b4c8b0" stroke-width="0.6"/><path d="M48 7L48.83 10.09M48.83 10.09L47.81 12.27M48.83 10.09L50.79 11.47" fill="none" stroke="#b4c8b0" stroke-width="0.6"/><path d="M58 7.5L57.72 10.69M57.72 10.69L56.02 12.38M57.72 10.69L59.1 12.65" fill="none" stroke="#b4c8b0" stroke-width="0.6"/><path d="M68 7L68.56 10.15M68.56 10.15L67.36 12.23M68.56 10.15L70.39 11.69" fill="none" stroke="#b4c8b0" stroke-width="0.6"/><path d="M50 11L48.4 13.77M48.4 13.77L46.14 14.59M48.4 13.77L48.82 16.13" fill="none" stroke="#b4c8b0" stroke-width="0.6"/></g><g transform="translate(484.8 134.5) rotate(-18)"><polygon points="14,-3 43,-2.56 43,2.56 14,3" fill="#f6def6"/><polygon points="43,-2.56 58,-2.34 58,2.34 43,2.56" fill="#fce8e8"/><polygon points="58,-2.34 74,-2.1 74,2.1 58,2.34" fill="#fdf3dc"/><line x1="14" y1="-3" x2="43" y2="-2.56" stroke="#b070c8" stroke-width="1.5" /><line x1="14" y1="3" x2="43" y2="2.56" stroke="#b070c8" stroke-width="1.5" /><line x1="43" y1="-2.56" x2="58" y2="-2.34" stroke="#e08c88" stroke-width="1.5" /><line x1="43" y1="2.56" x2="58" y2="2.34" stroke="#e08c88" stroke-width="1.5" /><line x1="58" y1="-2.34" x2="74" y2="-2.1" stroke="#dca878" stroke-width="1.5" /><line x1="58" y1="2.34" x2="74" y2="2.1" stroke="#dca878" stroke-width="1.5" /><circle cx="22" cy="-3.78" r="2.0" fill="#f6def6" stroke="#b070c8" stroke-width="1.1"/><circle cx="22" cy="3.78" r="2.0" fill="#f6def6" stroke="#b070c8" stroke-width="1.1"/><circle cx="43" cy="-3.46" r="2.0" fill="#f8dcec" stroke="#cc74a0" stroke-width="1.1"/><circle cx="43" cy="3.46" r="2.0" fill="#f8dcec" stroke="#cc74a0" stroke-width="1.1"/><circle cx="63.3" cy="-3.16" r="2.0" fill="#fdf3dc" stroke="#dca878" stroke-width="1.1"/><circle cx="63.3" cy="3.16" r="2.0" fill="#fdf3dc" stroke="#dca878" stroke-width="1.1"/><path d="M73.6 -2.1L88 -16.5" fill="none" stroke="#c0707c" stroke-width="2.5" stroke-linecap="butt" stroke-linejoin="miter"/><path d="M73.6 -2.1L88 -16.5" fill="none" stroke="#f4d4d8" stroke-width="0.8" stroke-linecap="butt" stroke-linejoin="miter"/><path d="M87.6 -16.1L101.3 -30.2" fill="none" stroke="#9460bc" stroke-width="2.5" stroke-linecap="butt" stroke-linejoin="miter"/><path d="M87.6 -16.1L101.3 -30.2" fill="none" stroke="#ecd8f6" stroke-width="0.8" stroke-linecap="butt" stroke-linejoin="miter"/><line x1="78.4" y1="-2.9" x2="104.8" y2="-29.4" stroke="#463a84" stroke-width="1.4" /><circle cx="85.7" cy="-7.7" r="2" fill="#fff" stroke="#6a58b0" stroke-width="1.0"/><circle cx="80.6" cy="-12.1" r="2" fill="#fff" stroke="#c47c8c" stroke-width="1.0"/><path d="M30 -7L30.56 -10.15M30.56 -10.15L32.39 -11.69M30.56 -10.15L29.36 -12.23" fill="none" stroke="#b4c8b0" stroke-width="0.6"/><path d="M36 -7.5L35.44 -10.65M35.44 -10.65L36.64 -12.73M35.44 -10.65L33.61 -12.19" fill="none" stroke="#b4c8b0" stroke-width="0.6"/><path d="M48 -7L48.83 -10.09M48.83 -10.09L50.79 -11.47M48.83 -10.09L47.81 -12.27" fill="none" stroke="#b4c8b0" stroke-width="0.6"/><path d="M58 -7.5L57.72 -10.69M57.72 -10.69L59.1 -12.65M57.72 -10.69L56.02 -12.38" fill="none" stroke="#b4c8b0" stroke-width="0.6"/><path d="M68 -7L68.56 -10.15M68.56 -10.15L70.39 -11.69M68.56 -10.15L67.36 -12.23" fill="none" stroke="#b4c8b0" stroke-width="0.6"/><path d="M50 -11L48.4 -13.77M48.4 -13.77L48.82 -16.13M48.4 -13.77L46.14 -14.59" fill="none" stroke="#b4c8b0" stroke-width="0.6"/><path d="M73.6 2.1L88 16.5" fill="none" stroke="#c0707c" stroke-width="2.5" stroke-linecap="butt" stroke-linejoin="miter"/><path d="M73.6 2.1L88 16.5" fill="none" stroke="#f4d4d8" stroke-width="0.8" stroke-linecap="butt" stroke-linejoin="miter"/><path d="M87.6 16.1L101.3 30.2" fill="none" stroke="#9460bc" stroke-width="2.5" stroke-linecap="butt" stroke-linejoin="miter"/><path d="M87.6 16.1L101.3 30.2" fill="none" stroke="#ecd8f6" stroke-width="0.8" stroke-linecap="butt" stroke-linejoin="miter"/><line x1="78.4" y1="2.9" x2="104.8" y2="29.4" stroke="#463a84" stroke-width="1.4" /><circle cx="85.7" cy="7.7" r="2" fill="#fff" stroke="#6a58b0" stroke-width="1.0"/><circle cx="80.6" cy="12.1" r="2" fill="#fff" stroke="#c47c8c" stroke-width="1.0"/><path d="M30 7L30.56 10.15M30.56 10.15L29.36 12.23M30.56 10.15L32.39 11.69" fill="none" stroke="#b4c8b0" stroke-width="0.6"/><path d="M36 7.5L35.44 10.65M35.44 10.65L33.61 12.19M35.44 10.65L36.64 12.73" fill="none" stroke="#b4c8b0" stroke-width="0.6"/><path d="M48 7L48.83 10.09M48.83 10.09L47.81 12.27M48.83 10.09L50.79 11.47" fill="none" stroke="#b4c8b0" stroke-width="0.6"/><path d="M58 7.5L57.72 10.69M57.72 10.69L56.02 12.38M57.72 10.69L59.1 12.65" fill="none" stroke="#b4c8b0" stroke-width="0.6"/><path d="M68 7L68.56 10.15M68.56 10.15L67.36 12.23M68.56 10.15L70.39 11.69" fill="none" stroke="#b4c8b0" stroke-width="0.6"/><path d="M50 11L48.4 13.77M48.4 13.77L46.14 14.59M48.4 13.77L48.82 16.13" fill="none" stroke="#b4c8b0" stroke-width="0.6"/></g><g transform="translate(484.8 134.5) rotate(54)"><polygon points="5,-3.13 43,-2.56 43,2.56 5,3.13" fill="#f6def6"/><polygon points="43,-2.56 58,-2.34 58,2.34 43,2.56" fill="#fce8e8"/><polygon points="58,-2.34 74,-2.1 74,2.1 58,2.34" fill="#fdf3dc"/><line x1="5" y1="-3.13" x2="43" y2="-2.56" stroke="#b070c8" stroke-width="1.5" /><line x1="5" y1="3.13" x2="43" y2="2.56" stroke="#b070c8" stroke-width="1.5" /><line x1="43" y1="-2.56" x2="58" y2="-2.34" stroke="#e08c88" stroke-width="1.5" /><line x1="43" y1="2.56" x2="58" y2="2.34" stroke="#e08c88" stroke-width="1.5" /><line x1="58" y1="-2.34" x2="74" y2="-2.1" stroke="#dca878" stroke-width="1.5" /><line x1="58" y1="2.34" x2="74" y2="2.1" stroke="#dca878" stroke-width="1.5" /><circle cx="22" cy="-3.78" r="2.0" fill="#f6def6" stroke="#b070c8" stroke-width="1.1"/><circle cx="22" cy="3.78" r="2.0" fill="#f6def6" stroke="#b070c8" stroke-width="1.1"/><circle cx="43" cy="-3.46" r="2.0" fill="#f8dcec" stroke="#cc74a0" stroke-width="1.1"/><circle cx="43" cy="3.46" r="2.0" fill="#f8dcec" stroke="#cc74a0" stroke-width="1.1"/><circle cx="63.3" cy="-3.16" r="2.0" fill="#fdf3dc" stroke="#dca878" stroke-width="1.1"/><circle cx="63.3" cy="3.16" r="2.0" fill="#fdf3dc" stroke="#dca878" stroke-width="1.1"/><path d="M73.6 -2.1L88 -16.5" fill="none" stroke="#c0707c" stroke-width="2.5" stroke-linecap="butt" stroke-linejoin="miter"/><path d="M73.6 -2.1L88 -16.5" fill="none" stroke="#f4d4d8" stroke-width="0.8" stroke-linecap="butt" stroke-linejoin="miter"/><path d="M87.6 -16.1L101.3 -30.2" fill="none" stroke="#9460bc" stroke-width="2.5" stroke-linecap="butt" stroke-linejoin="miter"/><path d="M87.6 -16.1L101.3 -30.2" fill="none" stroke="#ecd8f6" stroke-width="0.8" stroke-linecap="butt" stroke-linejoin="miter"/><line x1="78.4" y1="-2.9" x2="104.8" y2="-29.4" stroke="#463a84" stroke-width="1.4" /><circle cx="85.7" cy="-7.7" r="2" fill="#fff" stroke="#6a58b0" stroke-width="1.0"/><circle cx="80.6" cy="-12.1" r="2" fill="#fff" stroke="#c47c8c" stroke-width="1.0"/><path d="M30 -7L30.56 -10.15M30.56 -10.15L32.39 -11.69M30.56 -10.15L29.36 -12.23" fill="none" stroke="#b4c8b0" stroke-width="0.6"/><path d="M36 -7.5L35.44 -10.65M35.44 -10.65L36.64 -12.73M35.44 -10.65L33.61 -12.19" fill="none" stroke="#b4c8b0" stroke-width="0.6"/><path d="M48 -7L48.83 -10.09M48.83 -10.09L50.79 -11.47M48.83 -10.09L47.81 -12.27" fill="none" stroke="#b4c8b0" stroke-width="0.6"/><path d="M58 -7.5L57.72 -10.69M57.72 -10.69L59.1 -12.65M57.72 -10.69L56.02 -12.38" fill="none" stroke="#b4c8b0" stroke-width="0.6"/><path d="M68 -7L68.56 -10.15M68.56 -10.15L70.39 -11.69M68.56 -10.15L67.36 -12.23" fill="none" stroke="#b4c8b0" stroke-width="0.6"/><path d="M50 -11L48.4 -13.77M48.4 -13.77L48.82 -16.13M48.4 -13.77L46.14 -14.59" fill="none" stroke="#b4c8b0" stroke-width="0.6"/><path d="M73.6 2.1L88 16.5" fill="none" stroke="#c0707c" stroke-width="2.5" stroke-linecap="butt" stroke-linejoin="miter"/><path d="M73.6 2.1L88 16.5" fill="none" stroke="#f4d4d8" stroke-width="0.8" stroke-linecap="butt" stroke-linejoin="miter"/><path d="M87.6 16.1L101.3 30.2" fill="none" stroke="#9460bc" stroke-width="2.5" stroke-linecap="butt" stroke-linejoin="miter"/><path d="M87.6 16.1L101.3 30.2" fill="none" stroke="#ecd8f6" stroke-width="0.8" stroke-linecap="butt" stroke-linejoin="miter"/><line x1="78.4" y1="2.9" x2="104.8" y2="29.4" stroke="#463a84" stroke-width="1.4" /><circle cx="85.7" cy="7.7" r="2" fill="#fff" stroke="#6a58b0" stroke-width="1.0"/><circle cx="80.6" cy="12.1" r="2" fill="#fff" stroke="#c47c8c" stroke-width="1.0"/><path d="M30 7L30.56 10.15M30.56 10.15L29.36 12.23M30.56 10.15L32.39 11.69" fill="none" stroke="#b4c8b0" stroke-width="0.6"/><path d="M36 7.5L35.44 10.65M35.44 10.65L33.61 12.19M35.44 10.65L36.64 12.73" fill="none" stroke="#b4c8b0" stroke-width="0.6"/><path d="M48 7L48.83 10.09M48.83 10.09L47.81 12.27M48.83 10.09L50.79 11.47" fill="none" stroke="#b4c8b0" stroke-width="0.6"/><path d="M58 7.5L57.72 10.69M57.72 10.69L56.02 12.38M57.72 10.69L59.1 12.65" fill="none" stroke="#b4c8b0" stroke-width="0.6"/><path d="M68 7L68.56 10.15M68.56 10.15L67.36 12.23M68.56 10.15L70.39 11.69" fill="none" stroke="#b4c8b0" stroke-width="0.6"/><path d="M50 11L48.4 13.77M48.4 13.77L46.14 14.59M48.4 13.77L48.82 16.13" fill="none" stroke="#b4c8b0" stroke-width="0.6"/></g><g transform="translate(484.8 134.5) rotate(126)"><polygon points="5,-3.13 43,-2.56 43,2.56 5,3.13" fill="#f6def6"/><polygon points="43,-2.56 58,-2.34 58,2.34 43,2.56" fill="#fce8e8"/><polygon points="58,-2.34 74,-2.1 74,2.1 58,2.34" fill="#fdf3dc"/><line x1="5" y1="-3.13" x2="43" y2="-2.56" stroke="#b070c8" stroke-width="1.5" /><line x1="5" y1="3.13" x2="43" y2="2.56" stroke="#b070c8" stroke-width="1.5" /><line x1="43" y1="-2.56" x2="58" y2="-2.34" stroke="#e08c88" stroke-width="1.5" /><line x1="43" y1="2.56" x2="58" y2="2.34" stroke="#e08c88" stroke-width="1.5" /><line x1="58" y1="-2.34" x2="74" y2="-2.1" stroke="#dca878" stroke-width="1.5" /><line x1="58" y1="2.34" x2="74" y2="2.1" stroke="#dca878" stroke-width="1.5" /><circle cx="22" cy="-3.78" r="2.0" fill="#f6def6" stroke="#b070c8" stroke-width="1.1"/><circle cx="22" cy="3.78" r="2.0" fill="#f6def6" stroke="#b070c8" stroke-width="1.1"/><circle cx="43" cy="-3.46" r="2.0" fill="#f8dcec" stroke="#cc74a0" stroke-width="1.1"/><circle cx="43" cy="3.46" r="2.0" fill="#f8dcec" stroke="#cc74a0" stroke-width="1.1"/><circle cx="63.3" cy="-3.16" r="2.0" fill="#fdf3dc" stroke="#dca878" stroke-width="1.1"/><circle cx="63.3" cy="3.16" r="2.0" fill="#fdf3dc" stroke="#dca878" stroke-width="1.1"/><path d="M73.6 -2.1L88 -16.5" fill="none" stroke="#c0707c" stroke-width="2.5" stroke-linecap="butt" stroke-linejoin="miter"/><path d="M73.6 -2.1L88 -16.5" fill="none" stroke="#f4d4d8" stroke-width="0.8" stroke-linecap="butt" stroke-linejoin="miter"/><path d="M87.6 -16.1L101.3 -30.2" fill="none" stroke="#9460bc" stroke-width="2.5" stroke-linecap="butt" stroke-linejoin="miter"/><path d="M87.6 -16.1L101.3 -30.2" fill="none" stroke="#ecd8f6" stroke-width="0.8" stroke-linecap="butt" stroke-linejoin="miter"/><line x1="78.4" y1="-2.9" x2="104.8" y2="-29.4" stroke="#463a84" stroke-width="1.4" /><circle cx="85.7" cy="-7.7" r="2" fill="#fff" stroke="#6a58b0" stroke-width="1.0"/><circle cx="80.6" cy="-12.1" r="2" fill="#fff" stroke="#c47c8c" stroke-width="1.0"/><path d="M30 -7L30.56 -10.15M30.56 -10.15L32.39 -11.69M30.56 -10.15L29.36 -12.23" fill="none" stroke="#b4c8b0" stroke-width="0.6"/><path d="M36 -7.5L35.44 -10.65M35.44 -10.65L36.64 -12.73M35.44 -10.65L33.61 -12.19" fill="none" stroke="#b4c8b0" stroke-width="0.6"/><path d="M48 -7L48.83 -10.09M48.83 -10.09L50.79 -11.47M48.83 -10.09L47.81 -12.27" fill="none" stroke="#b4c8b0" stroke-width="0.6"/><path d="M58 -7.5L57.72 -10.69M57.72 -10.69L59.1 -12.65M57.72 -10.69L56.02 -12.38" fill="none" stroke="#b4c8b0" stroke-width="0.6"/><path d="M68 -7L68.56 -10.15M68.56 -10.15L70.39 -11.69M68.56 -10.15L67.36 -12.23" fill="none" stroke="#b4c8b0" stroke-width="0.6"/><path d="M50 -11L48.4 -13.77M48.4 -13.77L48.82 -16.13M48.4 -13.77L46.14 -14.59" fill="none" stroke="#b4c8b0" stroke-width="0.6"/><path d="M73.6 2.1L88 16.5" fill="none" stroke="#c0707c" stroke-width="2.5" stroke-linecap="butt" stroke-linejoin="miter"/><path d="M73.6 2.1L88 16.5" fill="none" stroke="#f4d4d8" stroke-width="0.8" stroke-linecap="butt" stroke-linejoin="miter"/><path d="M87.6 16.1L101.3 30.2" fill="none" stroke="#9460bc" stroke-width="2.5" stroke-linecap="butt" stroke-linejoin="miter"/><path d="M87.6 16.1L101.3 30.2" fill="none" stroke="#ecd8f6" stroke-width="0.8" stroke-linecap="butt" stroke-linejoin="miter"/><line x1="78.4" y1="2.9" x2="104.8" y2="29.4" stroke="#463a84" stroke-width="1.4" /><circle cx="85.7" cy="7.7" r="2" fill="#fff" stroke="#6a58b0" stroke-width="1.0"/><circle cx="80.6" cy="12.1" r="2" fill="#fff" stroke="#c47c8c" stroke-width="1.0"/><path d="M30 7L30.56 10.15M30.56 10.15L29.36 12.23M30.56 10.15L32.39 11.69" fill="none" stroke="#b4c8b0" stroke-width="0.6"/><path d="M36 7.5L35.44 10.65M35.44 10.65L33.61 12.19M35.44 10.65L36.64 12.73" fill="none" stroke="#b4c8b0" stroke-width="0.6"/><path d="M48 7L48.83 10.09M48.83 10.09L47.81 12.27M48.83 10.09L50.79 11.47" fill="none" stroke="#b4c8b0" stroke-width="0.6"/><path d="M58 7.5L57.72 10.69M57.72 10.69L56.02 12.38M57.72 10.69L59.1 12.65" fill="none" stroke="#b4c8b0" stroke-width="0.6"/><path d="M68 7L68.56 10.15M68.56 10.15L67.36 12.23M68.56 10.15L70.39 11.69" fill="none" stroke="#b4c8b0" stroke-width="0.6"/><path d="M50 11L48.4 13.77M48.4 13.77L46.14 14.59M48.4 13.77L48.82 16.13" fill="none" stroke="#b4c8b0" stroke-width="0.6"/></g><g transform="translate(484.8 134.5) rotate(198)"><polygon points="14,-3 43,-2.56 43,2.56 14,3" fill="#f6def6"/><polygon points="43,-2.56 58,-2.34 58,2.34 43,2.56" fill="#fce8e8"/><polygon points="58,-2.34 74,-2.1 74,2.1 58,2.34" fill="#fdf3dc"/><line x1="14" y1="-3" x2="43" y2="-2.56" stroke="#b070c8" stroke-width="1.5" /><line x1="14" y1="3" x2="43" y2="2.56" stroke="#b070c8" stroke-width="1.5" /><line x1="43" y1="-2.56" x2="58" y2="-2.34" stroke="#e08c88" stroke-width="1.5" /><line x1="43" y1="2.56" x2="58" y2="2.34" stroke="#e08c88" stroke-width="1.5" /><line x1="58" y1="-2.34" x2="74" y2="-2.1" stroke="#dca878" stroke-width="1.5" /><line x1="58" y1="2.34" x2="74" y2="2.1" stroke="#dca878" stroke-width="1.5" /><circle cx="22" cy="-3.78" r="2.0" fill="#f6def6" stroke="#b070c8" stroke-width="1.1"/><circle cx="22" cy="3.78" r="2.0" fill="#f6def6" stroke="#b070c8" stroke-width="1.1"/><circle cx="43" cy="-3.46" r="2.0" fill="#f8dcec" stroke="#cc74a0" stroke-width="1.1"/><circle cx="43" cy="3.46" r="2.0" fill="#f8dcec" stroke="#cc74a0" stroke-width="1.1"/><circle cx="63.3" cy="-3.16" r="2.0" fill="#fdf3dc" stroke="#dca878" stroke-width="1.1"/><circle cx="63.3" cy="3.16" r="2.0" fill="#fdf3dc" stroke="#dca878" stroke-width="1.1"/><path d="M73.6 -2.1L88 -16.5" fill="none" stroke="#c0707c" stroke-width="2.5" stroke-linecap="butt" stroke-linejoin="miter"/><path d="M73.6 -2.1L88 -16.5" fill="none" stroke="#f4d4d8" stroke-width="0.8" stroke-linecap="butt" stroke-linejoin="miter"/><path d="M87.6 -16.1L101.3 -30.2" fill="none" stroke="#9460bc" stroke-width="2.5" stroke-linecap="butt" stroke-linejoin="miter"/><path d="M87.6 -16.1L101.3 -30.2" fill="none" stroke="#ecd8f6" stroke-width="0.8" stroke-linecap="butt" stroke-linejoin="miter"/><line x1="78.4" y1="-2.9" x2="104.8" y2="-29.4" stroke="#463a84" stroke-width="1.4" /><circle cx="85.7" cy="-7.7" r="2" fill="#fff" stroke="#6a58b0" stroke-width="1.0"/><circle cx="80.6" cy="-12.1" r="2" fill="#fff" stroke="#c47c8c" stroke-width="1.0"/><path d="M30 -7L30.56 -10.15M30.56 -10.15L32.39 -11.69M30.56 -10.15L29.36 -12.23" fill="none" stroke="#b4c8b0" stroke-width="0.6"/><path d="M36 -7.5L35.44 -10.65M35.44 -10.65L36.64 -12.73M35.44 -10.65L33.61 -12.19" fill="none" stroke="#b4c8b0" stroke-width="0.6"/><path d="M48 -7L48.83 -10.09M48.83 -10.09L50.79 -11.47M48.83 -10.09L47.81 -12.27" fill="none" stroke="#b4c8b0" stroke-width="0.6"/><path d="M58 -7.5L57.72 -10.69M57.72 -10.69L59.1 -12.65M57.72 -10.69L56.02 -12.38" fill="none" stroke="#b4c8b0" stroke-width="0.6"/><path d="M68 -7L68.56 -10.15M68.56 -10.15L70.39 -11.69M68.56 -10.15L67.36 -12.23" fill="none" stroke="#b4c8b0" stroke-width="0.6"/><path d="M50 -11L48.4 -13.77M48.4 -13.77L48.82 -16.13M48.4 -13.77L46.14 -14.59" fill="none" stroke="#b4c8b0" stroke-width="0.6"/><path d="M73.6 2.1L88 16.5" fill="none" stroke="#c0707c" stroke-width="2.5" stroke-linecap="butt" stroke-linejoin="miter"/><path d="M73.6 2.1L88 16.5" fill="none" stroke="#f4d4d8" stroke-width="0.8" stroke-linecap="butt" stroke-linejoin="miter"/><path d="M87.6 16.1L101.3 30.2" fill="none" stroke="#9460bc" stroke-width="2.5" stroke-linecap="butt" stroke-linejoin="miter"/><path d="M87.6 16.1L101.3 30.2" fill="none" stroke="#ecd8f6" stroke-width="0.8" stroke-linecap="butt" stroke-linejoin="miter"/><line x1="78.4" y1="2.9" x2="104.8" y2="29.4" stroke="#463a84" stroke-width="1.4" /><circle cx="85.7" cy="7.7" r="2" fill="#fff" stroke="#6a58b0" stroke-width="1.0"/><circle cx="80.6" cy="12.1" r="2" fill="#fff" stroke="#c47c8c" stroke-width="1.0"/><path d="M30 7L30.56 10.15M30.56 10.15L29.36 12.23M30.56 10.15L32.39 11.69" fill="none" stroke="#b4c8b0" stroke-width="0.6"/><path d="M36 7.5L35.44 10.65M35.44 10.65L33.61 12.19M35.44 10.65L36.64 12.73" fill="none" stroke="#b4c8b0" stroke-width="0.6"/><path d="M48 7L48.83 10.09M48.83 10.09L47.81 12.27M48.83 10.09L50.79 11.47" fill="none" stroke="#b4c8b0" stroke-width="0.6"/><path d="M58 7.5L57.72 10.69M57.72 10.69L56.02 12.38M57.72 10.69L59.1 12.65" fill="none" stroke="#b4c8b0" stroke-width="0.6"/><path d="M68 7L68.56 10.15M68.56 10.15L67.36 12.23M68.56 10.15L70.39 11.69" fill="none" stroke="#b4c8b0" stroke-width="0.6"/><path d="M50 11L48.4 13.77M48.4 13.77L46.14 14.59M48.4 13.77L48.82 16.13" fill="none" stroke="#b4c8b0" stroke-width="0.6"/></g><circle cx="484.5" cy="137.4" r="2.6" fill="#f6def6" stroke="#b070c8" stroke-width="1.2"/><text x="484.8" y="16.9" font-size="13" text-anchor="middle" font-weight="normal" fill="#111" textLength="84" lengthAdjust="spacingAndGlyphs">IgM Pentamer</text><text x="468.7" y="57" font-size="5.4" text-anchor="middle" font-weight="bold" fill="#000" transform="rotate(58 468.7 57)" dominant-baseline="central">(C<tspan font-size="75%" dy="0.6">&#956;1</tspan><tspan dy="-0.6">)</tspan></text><text x="499.6" y="57" font-size="5.4" text-anchor="middle" font-weight="bold" fill="#000" transform="rotate(-58 499.6 57)" dominant-baseline="central">(C<tspan font-size="75%" dy="0.6">&#956;1</tspan><tspan dy="-0.6">)</tspan></text><text x="472.4" y="71" font-size="5" text-anchor="middle" font-weight="bold" fill="#000" dominant-baseline="central">(C<tspan font-size="75%" dy="0.6">&#956;2</tspan><tspan dy="-0.6">)</tspan></text><text x="497.6" y="71" font-size="5" text-anchor="middle" font-weight="bold" fill="#000" dominant-baseline="central">(C<tspan font-size="75%" dy="0.6">&#956;2</tspan><tspan dy="-0.6">)</tspan></text><text x="465.6" y="92.3" font-size="5" text-anchor="middle" font-weight="bold" fill="#000" dominant-baseline="central">(C<tspan font-size="75%" dy="0.6">&#956;3</tspan><tspan dy="-0.6">)</tspan></text><text x="503.4" y="92.3" font-size="5" text-anchor="middle" font-weight="bold" fill="#000" dominant-baseline="central">(C<tspan font-size="75%" dy="0.6">&#956;3</tspan><tspan dy="-0.6">)</tspan></text><text x="472.2" y="112.5" font-size="5" text-anchor="middle" font-weight="bold" fill="#000" dominant-baseline="central">(C<tspan font-size="75%" dy="0.6">&#956;4</tspan><tspan dy="-0.6">)</tspan></text><text x="497" y="112.5" font-size="5" text-anchor="middle" font-weight="bold" fill="#000" dominant-baseline="central">(C<tspan font-size="75%" dy="0.6">&#956;4</tspan><tspan dy="-0.6">)</tspan></text><text x="468.5" y="30.5" font-size="3.4" text-anchor="middle" font-weight="normal" fill="#777" transform="rotate(45 468.5 30.5)" dominant-baseline="central">(V<tspan font-size="70%" dy="0.5">L</tspan><tspan dy="-0.5">)</tspan></text><text x="500.6" y="30.5" font-size="3.4" text-anchor="middle" font-weight="normal" fill="#777" transform="rotate(-45 500.6 30.5)" dominant-baseline="central">(V<tspan font-size="70%" dy="0.5">L</tspan><tspan dy="-0.5">)</tspan></text><text x="456" y="42" font-size="3.4" text-anchor="middle" font-weight="normal" fill="#777" transform="rotate(45 456 42)" dominant-baseline="central">(V<tspan font-size="70%" dy="0.5">H</tspan><tspan dy="-0.5">)</tspan></text><text x="513" y="42" font-size="3.4" text-anchor="middle" font-weight="normal" fill="#777" transform="rotate(-45 513 42)" dominant-baseline="central">(V<tspan font-size="70%" dy="0.5">H</tspan><tspan dy="-0.5">)</tspan></text><text x="479.3" y="43.5" font-size="3.4" text-anchor="middle" font-weight="normal" fill="#777" transform="rotate(50 479.3 43.5)" dominant-baseline="central">(C<tspan font-size="70%" dy="0.5">L</tspan><tspan dy="-0.5">)</tspan></text><text x="489.5" y="43.5" font-size="3.4" text-anchor="middle" font-weight="normal" fill="#777" transform="rotate(-50 489.5 43.5)" dominant-baseline="central">(C<tspan font-size="70%" dy="0.5">L</tspan><tspan dy="-0.5">)</tspan></text></g></svg></body></html>
